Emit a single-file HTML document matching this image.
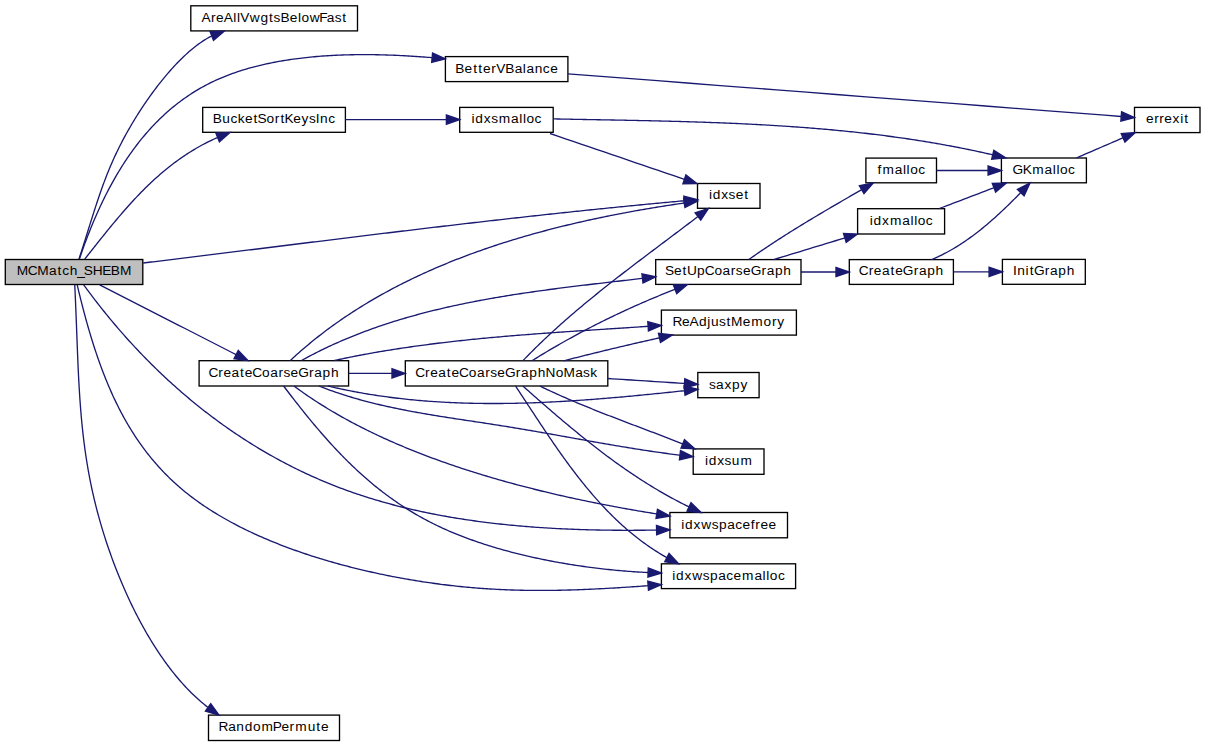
<!DOCTYPE html><html><head><meta charset="utf-8"><style>html,body{margin:0;padding:0;background:#fff;overflow:hidden;}svg{display:block;}text{font-family:"Liberation Sans",sans-serif;}</style></head><body>
<svg width="1205" height="747" viewBox="0 0 1205 747">
<rect width="1205" height="747" fill="#fff"/>
<rect x="5.30" y="259.50" width="137.50" height="25.00" fill="#bfbfbf" stroke="#000" stroke-width="1.33"/>
<text x="16.77 27.82 37.36 49.00 57.53 62.22 69.65 77.13 83.85 92.63 102.13 110.83 119.90" y="275.40" font-size="13.7" fill="#000">MCMatch_SHEBM</text>
<rect x="190.80" y="5.80" width="166.70" height="25.10" fill="#fff" stroke="#000" stroke-width="1.33"/>
<text x="201.55 210.91 216.01 223.82 233.20 236.88 240.18 249.71 260.43 269.10 273.61 280.44 289.78 297.96 301.55 309.83 319.18 326.79 334.65 342.20" y="21.75" font-size="13.7" fill="#000">AreAllVwgtsBelowFast</text>
<rect x="445.40" y="56.60" width="122.50" height="25.00" fill="#fff" stroke="#000" stroke-width="1.33"/>
<text x="455.26 464.59 473.14 478.31 483.05 491.35 496.29 505.34 514.66 522.81 526.41 534.64 542.84 550.13" y="72.50" font-size="13.7" fill="#000">BetterVBalance</text>
<rect x="202.70" y="107.40" width="142.70" height="24.90" fill="#fff" stroke="#000" stroke-width="1.33"/>
<text x="212.76 222.22 230.41 237.63 244.89 253.43 257.55 266.53 274.80 280.49 284.41 293.21 301.57 308.91 315.81 320.04 328.23" y="123.25" font-size="13.7" fill="#000">BucketSortKeysInc</text>
<rect x="459.70" y="107.40" width="93.50" height="24.90" fill="#fff" stroke="#000" stroke-width="1.33"/>
<text x="471.59 475.32 483.80 491.14 498.72 511.09 519.25 522.92 526.50 534.55" y="123.25" font-size="13.7" fill="#000">idxsmalloc</text>
<rect x="1134.50" y="107.40" width="65.50" height="25.20" fill="#fff" stroke="#000" stroke-width="1.33"/>
<text x="1146.00 1154.19 1159.35 1164.33 1172.57 1180.21 1184.25" y="123.40" font-size="13.7" fill="#000">errexit</text>
<rect x="1001.40" y="158.00" width="85.00" height="24.80" fill="#fff" stroke="#000" stroke-width="1.33"/>
<text x="1012.45 1022.64 1032.26 1044.62 1052.77 1056.45 1060.03 1068.07" y="173.80" font-size="13.7" fill="#000">GKmalloc</text>
<rect x="865.90" y="158.10" width="70.60" height="24.70" fill="#fff" stroke="#000" stroke-width="1.33"/>
<text x="877.50 882.44 894.80 902.96 906.62 910.21 918.26" y="173.85" font-size="13.7" fill="#000">fmalloc</text>
<rect x="697.50" y="183.50" width="62.50" height="24.80" fill="#fff" stroke="#000" stroke-width="1.33"/>
<text x="709.05 712.78 721.26 728.60 735.71 744.25" y="199.30" font-size="13.7" fill="#000">idxset</text>
<rect x="857.60" y="208.70" width="87.00" height="25.30" fill="#fff" stroke="#000" stroke-width="1.33"/>
<text x="869.68 873.41 881.89 889.94 902.31 910.46 914.13 917.71 925.76" y="224.75" font-size="13.7" fill="#000">idxmalloc</text>
<rect x="655.70" y="259.60" width="145.30" height="24.80" fill="#fff" stroke="#000" stroke-width="1.33"/>
<text x="664.98 673.99 682.54 686.91 697.07 704.72 714.50 722.57 730.86 735.86 742.98 750.63 761.50 766.73 774.95 783.33" y="275.40" font-size="13.7" fill="#000">SetUpCoarseGraph</text>
<rect x="849.30" y="259.60" width="104.10" height="24.80" fill="#fff" stroke="#000" stroke-width="1.33"/>
<text x="858.85 868.68 873.79 881.89 890.42 895.16 902.82 913.68 918.91 927.14 935.51" y="275.40" font-size="13.7" fill="#000">CreateGraph</text>
<rect x="1002.40" y="259.40" width="82.90" height="24.90" fill="#fff" stroke="#000" stroke-width="1.33"/>
<text x="1013.10 1017.32 1025.62 1029.66 1033.94 1044.80 1050.04 1058.26 1066.64" y="275.25" font-size="13.7" fill="#000">InitGraph</text>
<rect x="661.40" y="310.10" width="135.00" height="25.00" fill="#fff" stroke="#000" stroke-width="1.33"/>
<text x="672.44 681.92 689.61 698.96 707.27 710.99 719.00 726.55 731.02 742.67 751.26 763.62 771.90 777.36" y="326.00" font-size="13.7" fill="#000">ReAdjustMemory</text>
<rect x="199.10" y="360.70" width="149.50" height="25.30" fill="#fff" stroke="#000" stroke-width="1.33"/>
<text x="208.46 218.29 223.39 231.50 240.02 244.77 252.30 262.06 270.15 278.44 283.45 290.55 298.21 309.08 314.31 322.54 330.91" y="376.75" font-size="13.7" fill="#000">CreateCoarseGraph</text>
<rect x="405.30" y="360.80" width="202.50" height="25.20" fill="#fff" stroke="#000" stroke-width="1.33"/>
<text x="415.20 425.02 430.13 438.23 446.76 451.50 459.03 468.80 476.89 485.18 490.18 497.28 504.95 515.82 521.04 529.27 537.64 545.61 555.73 563.56 575.19 583.06 590.31" y="376.80" font-size="13.7" fill="#000">CreateCoarseGraphNoMask</text>
<rect x="697.80" y="372.50" width="61.30" height="25.20" fill="#fff" stroke="#000" stroke-width="1.33"/>
<text x="708.99 716.08 724.40 732.11 740.59" y="388.50" font-size="13.7" fill="#000">saxpy</text>
<rect x="693.20" y="448.90" width="70.80" height="25.40" fill="#fff" stroke="#000" stroke-width="1.33"/>
<text x="704.93 708.66 717.14 724.48 731.72 740.43" y="465.00" font-size="13.7" fill="#000">idxsum</text>
<rect x="669.90" y="512.50" width="117.60" height="25.30" fill="#fff" stroke="#000" stroke-width="1.33"/>
<text x="681.32 685.05 693.53 701.30 711.66 718.90 727.13 735.19 742.49 750.77 755.28 760.39 768.51" y="528.55" font-size="13.7" fill="#000">idxwspacefree</text>
<rect x="661.40" y="563.80" width="134.20" height="24.80" fill="#fff" stroke="#000" stroke-width="1.33"/>
<text x="672.33 676.06 684.54 692.32 702.67 709.91 718.14 726.20 733.50 742.09 754.46 762.61 766.27 769.86 777.91" y="579.60" font-size="13.7" fill="#000">idxwspacemalloc</text>
<rect x="208.50" y="715.10" width="131.00" height="25.40" fill="#fff" stroke="#000" stroke-width="1.33"/>
<text x="218.53 228.14 236.37 244.73 252.96 261.52 272.83 281.39 289.58 295.18 307.67 316.36 321.10" y="731.20" font-size="13.7" fill="#000">RandomPermute</text>
<path d="M79.00,259.00 L79.73,256.76 L80.44,254.54 L81.15,252.34 L81.85,250.16 L82.53,248.01 L83.21,245.88 L83.88,243.76 L84.54,241.67 L85.19,239.60 L85.84,237.55 L86.48,235.51 L87.11,233.50 L87.74,231.50 L88.36,229.52 L88.97,227.55 L89.58,225.60 L90.19,223.67 L90.79,221.75 L91.39,219.85 L91.99,217.96 L92.58,216.08 L93.18,214.22 L93.77,212.37 L94.36,210.53 L94.95,208.71 L95.54,206.89 L96.13,205.09 L96.72,203.30 L97.31,201.51 L97.90,199.74 L98.50,197.97 L99.10,196.21 L99.70,194.46 L100.30,192.72 L100.91,190.98 L101.52,189.25 L102.14,187.52 L102.76,185.80 L103.39,184.08 L104.03,182.37 L104.67,180.66 L105.32,178.96 L105.97,177.25 L106.64,175.55 L107.31,173.85 L107.99,172.16 L108.68,170.46 L109.38,168.76 L110.09,167.06 L110.81,165.36 L111.54,163.66 L112.29,161.96 L113.04,160.25 L113.81,158.54 L114.59,156.83 L115.39,155.12 L116.20,153.40 L117.02,151.67 L117.86,149.94 L118.71,148.20 L119.58,146.46 L120.46,144.71 L121.36,142.95 L122.28,141.18 L123.22,139.41 L124.17,137.62 L125.14,135.83 L126.13,134.03 L127.14,132.21 L128.17,130.39 L129.22,128.55 L130.29,126.71 L131.37,124.86 L132.47,123.00 L133.60,121.13 L134.74,119.26 L135.89,117.38 L137.07,115.50 L138.25,113.62 L139.46,111.73 L140.68,109.85 L141.92,107.96 L143.17,106.08 L144.43,104.19 L145.71,102.31 L147.01,100.44 L148.32,98.57 L149.64,96.70 L150.97,94.84 L152.31,92.99 L153.67,91.15 L155.04,89.31 L156.42,87.49 L157.81,85.68 L159.21,83.88 L160.62,82.09 L162.05,80.32 L163.48,78.56 L164.92,76.82 L166.37,75.09 L167.82,73.39 L169.29,71.70 L170.76,70.03 L172.24,68.38 L173.72,66.75 L175.22,65.15 L176.72,63.57 L178.22,62.01 L179.73,60.48 L181.25,58.97 L182.77,57.50 L184.29,56.04 L185.82,54.62 L187.35,53.23 L188.88,51.87 L190.42,50.54 L191.96,49.24 L193.50,47.98 L195.04,46.75 L196.59,45.56 L198.13,44.40 L199.68,43.28 L201.23,42.20 L202.77,41.16 L204.32,40.16 L205.86,39.20 L207.41,38.28 L208.95,37.40 L210.49,36.57 L211.79,36.06" fill="none" stroke="#191970" stroke-width="1.33" stroke-linejoin="round"/>
<polygon points="224.20,31.20 213.49,40.41 210.08,31.71" fill="#191970" stroke="#191970" stroke-width="1.33"/>
<path d="M79.40,259.00 L80.08,257.00 L80.76,255.01 L81.46,253.02 L82.15,251.04 L82.86,249.06 L83.57,247.08 L84.29,245.11 L85.01,243.14 L85.74,241.18 L86.48,239.23 L87.22,237.27 L87.97,235.33 L88.73,233.39 L89.49,231.45 L90.26,229.52 L91.04,227.59 L91.82,225.67 L92.62,223.76 L93.42,221.85 L94.22,219.95 L95.04,218.05 L95.86,216.16 L96.68,214.28 L97.52,212.40 L98.36,210.53 L99.21,208.67 L100.07,206.81 L100.94,204.96 L101.81,203.12 L102.69,201.28 L103.58,199.45 L104.48,197.63 L105.38,195.81 L106.30,194.00 L107.22,192.20 L108.15,190.41 L109.09,188.62 L110.03,186.85 L110.99,185.08 L111.95,183.32 L112.92,181.56 L113.90,179.82 L114.89,178.08 L115.89,176.35 L116.89,174.64 L117.91,172.92 L118.93,171.22 L119.96,169.53 L121.00,167.85 L122.05,166.17 L123.11,164.50 L124.18,162.85 L125.26,161.20 L126.35,159.56 L127.44,157.94 L128.55,156.32 L129.66,154.71 L130.79,153.11 L131.92,151.52 L133.06,149.94 L134.22,148.38 L135.38,146.82 L136.55,145.27 L137.74,143.74 L138.93,142.21 L140.13,140.69 L141.34,139.19 L142.56,137.70 L143.80,136.21 L145.04,134.74 L146.29,133.28 L147.56,131.84 L148.83,130.40 L150.11,128.97 L151.41,127.56 L152.71,126.16 L154.03,124.77 L155.36,123.39 L156.69,122.03 L158.04,120.67 L159.40,119.33 L160.77,118.01 L162.15,116.69 L163.54,115.39 L164.94,114.10 L166.36,112.82 L167.78,111.56 L169.22,110.30 L170.67,109.07 L172.13,107.84 L173.60,106.63 L175.08,105.43 L176.57,104.25 L178.08,103.08 L179.60,101.92 L181.13,100.78 L182.67,99.65 L184.22,98.54 L185.78,97.43 L187.36,96.35 L188.95,95.28 L190.55,94.22 L192.16,93.18 L193.79,92.15 L195.42,91.14 L197.07,90.14 L198.73,89.16 L200.41,88.19 L202.10,87.24 L203.80,86.30 L205.51,85.38 L207.23,84.48 L208.97,83.59 L210.72,82.71 L212.48,81.86 L214.26,81.01 L216.05,80.19 L217.85,79.38 L219.67,78.59 L221.49,77.81 L223.33,77.04 L225.18,76.30 L227.04,75.56 L228.91,74.85 L230.80,74.15 L232.69,73.46 L234.60,72.79 L236.51,72.13 L238.44,71.49 L240.37,70.86 L242.32,70.24 L244.27,69.64 L246.24,69.05 L248.21,68.48 L250.19,67.92 L252.18,67.38 L254.18,66.85 L256.18,66.33 L258.19,65.82 L260.22,65.33 L262.24,64.85 L264.28,64.39 L266.32,63.93 L268.37,63.49 L270.42,63.06 L272.48,62.65 L274.55,62.24 L276.62,61.85 L278.70,61.47 L280.79,61.10 L282.87,60.75 L284.97,60.40 L287.06,60.07 L289.17,59.75 L291.27,59.44 L293.38,59.14 L295.49,58.85 L297.61,58.57 L299.73,58.30 L301.85,58.05 L303.98,57.80 L306.10,57.56 L308.23,57.34 L310.36,57.12 L312.50,56.92 L314.63,56.72 L316.77,56.53 L318.90,56.36 L321.04,56.19 L323.18,56.03 L325.32,55.88 L327.46,55.74 L329.60,55.61 L331.73,55.49 L333.87,55.38 L336.01,55.27 L338.14,55.18 L340.28,55.09 L342.41,55.01 L344.54,54.94 L346.67,54.87 L348.79,54.81 L350.92,54.77 L353.04,54.72 L355.16,54.69 L357.27,54.66 L359.39,54.64 L361.49,54.63 L363.60,54.63 L365.70,54.63 L367.79,54.63 L369.89,54.65 L371.97,54.67 L374.05,54.70 L376.13,54.73 L378.20,54.77 L380.26,54.81 L382.32,54.86 L384.38,54.92 L386.42,54.98 L388.46,55.05 L390.49,55.12 L392.52,55.19 L394.54,55.28 L396.55,55.36 L398.55,55.46 L400.55,55.55 L402.53,55.65 L404.51,55.76 L406.48,55.87 L408.44,55.98 L410.39,56.10 L412.33,56.22 L414.27,56.34 L416.19,56.47 L418.10,56.60 L420.00,56.74 L421.89,56.87 L423.77,57.02 L425.64,57.16 L427.50,57.31 L429.34,57.46 L431.18,57.61 L432.12,57.69" fill="none" stroke="#191970" stroke-width="1.33" stroke-linejoin="round"/>
<polygon points="445.40,58.90 431.70,62.34 432.55,53.04" fill="#191970" stroke="#191970" stroke-width="1.33"/>
<path d="M84.80,259.00 L86.10,257.37 L87.39,255.73 L88.68,254.10 L89.97,252.47 L91.26,250.84 L92.55,249.22 L93.83,247.59 L95.12,245.97 L96.41,244.35 L97.69,242.74 L98.98,241.12 L100.26,239.52 L101.55,237.91 L102.84,236.31 L104.13,234.71 L105.41,233.11 L106.70,231.52 L108.00,229.93 L109.29,228.35 L110.58,226.77 L111.88,225.20 L113.18,223.63 L114.48,222.06 L115.79,220.51 L117.09,218.95 L118.40,217.40 L119.72,215.86 L121.03,214.32 L122.35,212.79 L123.68,211.27 L125.01,209.75 L126.34,208.24 L127.68,206.73 L129.02,205.24 L130.37,203.74 L131.72,202.26 L133.08,200.78 L134.44,199.31 L135.81,197.85 L137.18,196.40 L138.56,194.95 L139.95,193.51 L141.35,192.08 L142.75,190.66 L144.15,189.25 L145.57,187.84 L146.99,186.45 L148.42,185.06 L149.86,183.68 L151.30,182.32 L152.76,180.96 L154.22,179.61 L155.69,178.27 L157.17,176.95 L158.66,175.63 L160.16,174.32 L161.66,173.02 L163.18,171.74 L164.71,170.46 L166.24,169.20 L167.79,167.95 L169.35,166.71 L170.92,165.48 L172.50,164.26 L174.09,163.05 L175.69,161.86 L177.30,160.68 L178.93,159.51 L180.56,158.35 L182.21,157.21 L183.87,156.08 L185.55,154.96 L187.23,153.86 L188.93,152.77 L190.64,151.69 L192.37,150.63 L194.11,149.58 L195.86,148.54 L197.63,147.52 L199.41,146.51 L201.20,145.52 L203.01,144.54 L204.84,143.58 L206.68,142.63 L208.53,141.70 L210.40,140.78 L212.29,139.88 L214.19,139.00 L216.11,138.13 L217.65,137.51" fill="none" stroke="#191970" stroke-width="1.33" stroke-linejoin="round"/>
<polygon points="230.00,132.50 219.40,141.83 215.89,133.18" fill="#191970" stroke="#191970" stroke-width="1.33"/>
<path d="M143.20,263.00 L145.20,262.76 L147.20,262.51 L149.20,262.27 L151.20,262.03 L153.20,261.79 L155.20,261.54 L157.20,261.30 L159.20,261.05 L161.20,260.81 L163.19,260.57 L165.19,260.32 L167.19,260.08 L169.19,259.83 L171.19,259.59 L173.19,259.34 L175.19,259.10 L177.19,258.85 L179.19,258.61 L181.19,258.36 L183.19,258.12 L185.19,257.87 L187.19,257.63 L189.19,257.38 L191.19,257.13 L193.18,256.89 L195.18,256.64 L197.18,256.40 L199.18,256.15 L201.18,255.90 L203.18,255.66 L205.18,255.41 L207.18,255.16 L209.18,254.92 L211.18,254.67 L213.18,254.42 L215.18,254.17 L217.17,253.93 L219.17,253.68 L221.17,253.43 L223.17,253.18 L225.17,252.94 L227.17,252.69 L229.17,252.44 L231.17,252.19 L233.17,251.95 L235.17,251.70 L237.17,251.45 L239.17,251.20 L241.16,250.96 L243.16,250.71 L245.16,250.46 L247.16,250.21 L249.16,249.96 L251.16,249.72 L253.16,249.47 L255.16,249.22 L257.16,248.97 L259.16,248.72 L261.16,248.48 L263.15,248.23 L265.15,247.98 L267.15,247.73 L269.15,247.48 L271.15,247.23 L273.15,246.99 L275.15,246.74 L277.15,246.49 L279.15,246.24 L281.15,245.99 L283.15,245.75 L285.14,245.50 L287.14,245.25 L289.14,245.00 L291.14,244.76 L293.14,244.51 L295.14,244.26 L297.14,244.01 L299.14,243.76 L301.14,243.52 L303.14,243.27 L305.14,243.02 L307.14,242.77 L309.13,242.53 L311.13,242.28 L313.13,242.03 L315.13,241.79 L317.13,241.54 L319.13,241.29 L321.13,241.04 L323.13,240.80 L325.13,240.55 L327.13,240.30 L329.13,240.06 L331.13,239.81 L333.13,239.57 L335.13,239.32 L337.12,239.07 L339.12,238.83 L341.12,238.58 L343.12,238.34 L345.12,238.09 L347.12,237.84 L349.12,237.60 L351.12,237.35 L353.12,237.11 L355.12,236.86 L357.12,236.62 L359.12,236.37 L361.12,236.13 L363.12,235.89 L365.12,235.64 L367.12,235.40 L369.12,235.15 L371.12,234.91 L373.12,234.67 L375.12,234.42 L377.11,234.18 L379.11,233.94 L381.11,233.69 L383.11,233.45 L385.11,233.21 L387.11,232.97 L389.11,232.72 L391.11,232.48 L393.11,232.24 L395.11,232.00 L397.11,231.76 L399.11,231.52 L401.11,231.27 L403.11,231.03 L405.11,230.79 L407.11,230.55 L409.11,230.31 L411.11,230.07 L413.11,229.83 L415.11,229.59 L417.11,229.35 L419.11,229.12 L421.11,228.88 L423.11,228.64 L425.11,228.40 L427.11,228.16 L429.11,227.92 L431.11,227.69 L433.11,227.45 L435.11,227.21 L437.11,226.98 L439.11,226.74 L441.12,226.50 L443.12,226.27 L445.12,226.03 L447.12,225.80 L449.12,225.56 L451.12,225.33 L453.12,225.09 L455.12,224.86 L457.12,224.62 L459.12,224.39 L461.12,224.16 L463.12,223.92 L465.12,223.69 L467.12,223.46 L469.12,223.23 L471.12,223.00 L473.13,222.76 L475.13,222.53 L477.13,222.30 L479.13,222.07 L481.13,221.84 L483.13,221.61 L485.13,221.38 L487.13,221.15 L489.13,220.92 L491.13,220.70 L493.14,220.47 L495.14,220.24 L497.14,220.01 L499.14,219.79 L501.14,219.56 L503.14,219.33 L505.14,219.11 L507.15,218.88 L509.15,218.66 L511.15,218.43 L513.15,218.21 L515.15,217.98 L517.15,217.76 L519.16,217.54 L521.16,217.31 L523.16,217.09 L525.16,216.87 L527.16,216.65 L529.16,216.43 L531.17,216.21 L533.17,215.98 L535.17,215.76 L537.17,215.55 L539.17,215.33 L541.18,215.11 L543.18,214.89 L545.18,214.67 L547.18,214.45 L549.19,214.24 L551.19,214.02 L553.19,213.80 L555.19,213.59 L557.20,213.37 L559.20,213.16 L561.20,212.94 L563.20,212.73 L565.21,212.52 L567.21,212.30 L569.21,212.09 L571.21,211.88 L573.22,211.67 L575.22,211.46 L577.22,211.25 L579.23,211.04 L581.23,210.83 L583.23,210.62 L585.24,210.41 L587.24,210.20 L589.24,209.99 L591.25,209.78 L593.25,209.58 L595.25,209.37 L597.26,209.17 L599.26,208.96 L601.26,208.76 L603.27,208.55 L605.27,208.35 L607.27,208.15 L609.28,207.94 L611.28,207.74 L613.29,207.54 L615.29,207.34 L617.29,207.14 L619.30,206.94 L621.30,206.74 L623.31,206.54 L625.31,206.34 L627.31,206.14 L629.32,205.95 L631.32,205.75 L633.33,205.55 L635.33,205.36 L637.34,205.16 L639.34,204.97 L641.35,204.78 L643.35,204.58 L645.35,204.39 L647.36,204.20 L649.36,204.01 L651.37,203.82 L653.37,203.63 L655.38,203.44 L657.38,203.25 L659.39,203.06 L661.39,202.87 L663.40,202.68 L665.41,202.50 L667.41,202.31 L669.42,202.13 L671.42,201.94 L673.43,201.76 L675.43,201.58 L677.44,201.39 L679.44,201.21 L681.45,201.03 L683.46,200.85 L684.22,200.78" fill="none" stroke="#191970" stroke-width="1.33" stroke-linejoin="round"/>
<polygon points="697.50,199.60 684.64,205.43 683.81,196.13" fill="#191970" stroke="#191970" stroke-width="1.33"/>
<path d="M99.70,284.90 L107.51,288.89 L115.31,292.88 L123.12,296.87 L130.92,300.86 L138.73,304.85 L146.53,308.84 L154.34,312.83 L162.14,316.82 L169.95,320.81 L177.75,324.79 L185.56,328.78 L193.36,332.77 L201.17,336.76 L208.97,340.75 L216.78,344.74 L224.58,348.73 L232.39,352.72 L236.13,354.63" fill="none" stroke="#191970" stroke-width="1.33" stroke-linejoin="round"/>
<polygon points="248.00,360.70 234.01,358.79 238.26,350.47" fill="#191970" stroke="#191970" stroke-width="1.33"/>
<path d="M83.75,284.90 L84.95,286.54 L86.15,288.18 L87.35,289.82 L88.56,291.45 L89.78,293.08 L91.00,294.70 L92.22,296.32 L93.45,297.94 L94.68,299.55 L95.92,301.15 L97.16,302.76 L98.41,304.36 L99.66,305.95 L100.91,307.54 L102.17,309.13 L103.44,310.71 L104.71,312.29 L105.98,313.86 L107.26,315.43 L108.54,317.00 L109.83,318.56 L111.12,320.11 L112.42,321.66 L113.72,323.21 L115.02,324.75 L116.33,326.29 L117.65,327.83 L118.96,329.36 L120.29,330.88 L121.61,332.40 L122.95,333.92 L124.28,335.43 L125.62,336.94 L126.97,338.44 L128.32,339.94 L129.67,341.43 L131.03,342.92 L132.39,344.40 L133.76,345.88 L135.13,347.35 L136.50,348.82 L137.88,350.29 L139.26,351.75 L140.65,353.20 L142.05,354.65 L143.44,356.10 L144.84,357.54 L146.25,358.97 L147.66,360.40 L149.07,361.83 L150.49,363.25 L151.91,364.66 L153.34,366.07 L154.77,367.48 L156.21,368.88 L157.65,370.27 L159.09,371.67 L160.54,373.05 L161.99,374.43 L163.45,375.80 L164.91,377.17 L166.37,378.54 L167.84,379.90 L169.31,381.25 L170.79,382.60 L172.27,383.94 L173.76,385.28 L175.25,386.61 L176.74,387.94 L178.24,389.26 L179.74,390.58 L181.25,391.89 L182.76,393.20 L184.28,394.50 L185.79,395.79 L187.32,397.08 L188.84,398.37 L190.38,399.64 L191.91,400.92 L193.45,402.18 L194.99,403.45 L196.54,404.70 L198.09,405.95 L199.65,407.20 L201.21,408.44 L202.77,409.67 L204.34,410.90 L205.91,412.12 L207.49,413.33 L209.07,414.54 L210.65,415.75 L212.24,416.95 L213.83,418.14 L215.43,419.33 L217.03,420.51 L218.63,421.68 L220.24,422.85 L221.85,424.02 L223.47,425.17 L225.09,426.32 L226.71,427.47 L228.34,428.61 L229.97,429.74 L231.61,430.87 L233.24,431.99 L234.89,433.11 L236.54,434.21 L238.19,435.32 L239.84,436.41 L241.50,437.50 L243.16,438.59 L244.83,439.66 L246.50,440.74 L248.18,441.80 L249.85,442.86 L251.54,443.91 L253.22,444.96 L254.91,446.00 L256.60,447.03 L258.30,448.06 L260.00,449.08 L261.71,450.09 L263.42,451.10 L265.13,452.10 L266.85,453.10 L268.57,454.09 L270.29,455.07 L272.02,456.04 L273.75,457.01 L275.49,457.97 L277.22,458.93 L278.97,459.88 L280.71,460.82 L282.46,461.75 L284.22,462.68 L285.98,463.60 L287.74,464.52 L289.50,465.43 L291.27,466.33 L293.04,467.22 L294.82,468.11 L296.60,468.99 L298.38,469.86 L300.17,470.73 L301.96,471.59 L303.76,472.44 L305.55,473.29 L307.36,474.13 L309.16,474.96 L310.97,475.79 L312.78,476.60 L314.60,477.41 L316.42,478.22 L318.24,479.01 L320.07,479.80 L321.90,480.59 L323.74,481.36 L325.57,482.13 L327.41,482.89 L329.26,483.64 L331.11,484.39 L332.96,485.13 L334.82,485.86 L336.67,486.59 L338.54,487.30 L340.40,488.01 L342.27,488.71 L344.15,489.41 L346.02,490.10 L347.90,490.78 L349.79,491.45 L351.67,492.12 L353.56,492.77 L355.46,493.43 L357.35,494.07 L359.25,494.71 L361.16,495.34 L363.06,495.96 L364.97,496.58 L366.88,497.19 L368.80,497.79 L370.71,498.38 L372.64,498.97 L374.56,499.55 L376.49,500.13 L378.41,500.70 L380.35,501.26 L382.28,501.81 L384.22,502.36 L386.16,502.90 L388.10,503.44 L390.05,503.97 L391.99,504.49 L393.94,505.01 L395.90,505.52 L397.85,506.02 L399.81,506.52 L401.77,507.01 L403.73,507.49 L405.70,507.97 L407.66,508.44 L409.63,508.90 L411.60,509.36 L413.57,509.82 L415.55,510.26 L417.53,510.71 L419.51,511.14 L421.49,511.57 L423.47,511.99 L425.45,512.41 L427.44,512.82 L429.43,513.23 L431.42,513.63 L433.41,514.02 L435.40,514.41 L437.40,514.79 L439.40,515.17 L441.40,515.54 L443.40,515.91 L445.40,516.27 L447.40,516.62 L449.40,516.97 L451.41,517.31 L453.42,517.65 L455.43,517.98 L457.43,518.31 L459.45,518.63 L461.46,518.95 L463.47,519.26 L465.49,519.57 L467.50,519.87 L469.52,520.17 L471.53,520.46 L473.55,520.74 L475.57,521.02 L477.59,521.30 L479.61,521.57 L481.64,521.84 L483.66,522.10 L485.68,522.36 L487.71,522.61 L489.73,522.85 L491.76,523.10 L493.78,523.33 L495.81,523.57 L497.84,523.79 L499.86,524.02 L501.89,524.24 L503.92,524.45 L505.95,524.66 L507.98,524.86 L510.01,525.07 L512.04,525.26 L514.07,525.45 L516.10,525.64 L518.13,525.82 L520.16,526.00 L522.19,526.18 L524.22,526.35 L526.25,526.52 L528.28,526.68 L530.31,526.84 L532.34,526.99 L534.37,527.14 L536.40,527.29 L538.43,527.43 L540.46,527.57 L542.48,527.70 L544.51,527.83 L546.54,527.96 L548.57,528.08 L550.59,528.20 L552.62,528.32 L554.65,528.43 L556.67,528.54 L558.70,528.64 L560.72,528.74 L562.74,528.84 L564.77,528.93 L566.79,529.02 L568.81,529.11 L570.83,529.19 L572.85,529.27 L574.87,529.35 L576.88,529.42 L578.90,529.49 L580.92,529.56 L582.93,529.63 L584.94,529.69 L586.96,529.74 L588.97,529.80 L590.98,529.85 L592.98,529.90 L594.99,529.94 L597.00,529.99 L599.00,530.03 L601.00,530.06 L603.00,530.10 L605.00,530.13 L607.00,530.16 L609.00,530.18 L610.99,530.20 L612.99,530.22 L614.98,530.24 L616.97,530.26 L618.96,530.27 L620.94,530.28 L622.93,530.29 L624.91,530.29 L626.89,530.29 L628.87,530.29 L630.85,530.29 L632.82,530.29 L634.79,530.28 L636.76,530.27 L638.73,530.26 L640.70,530.24 L642.66,530.23 L644.62,530.21 L646.58,530.19 L648.54,530.17 L650.49,530.14 L652.45,530.12 L654.40,530.09 L656.34,530.06 L656.57,530.06" fill="none" stroke="#191970" stroke-width="1.33" stroke-linejoin="round"/>
<polygon points="669.90,529.80 656.66,534.73 656.48,525.39" fill="#191970" stroke="#191970" stroke-width="1.33"/>
<path d="M77.20,284.90 L77.73,287.13 L78.25,289.34 L78.79,291.55 L79.32,293.75 L79.86,295.94 L80.40,298.12 L80.94,300.30 L81.49,302.46 L82.04,304.62 L82.59,306.77 L83.15,308.91 L83.71,311.04 L84.27,313.17 L84.84,315.28 L85.41,317.39 L85.99,319.48 L86.57,321.57 L87.15,323.65 L87.74,325.73 L88.33,327.79 L88.93,329.84 L89.53,331.89 L90.13,333.93 L90.74,335.96 L91.36,337.98 L91.98,339.99 L92.60,342.00 L93.23,343.99 L93.87,345.98 L94.50,347.96 L95.15,349.93 L95.80,351.89 L96.46,353.84 L97.12,355.79 L97.78,357.72 L98.46,359.65 L99.13,361.57 L99.82,363.48 L100.51,365.38 L101.21,367.27 L101.91,369.16 L102.62,371.04 L103.33,372.90 L104.05,374.76 L104.78,376.61 L105.51,378.46 L106.25,380.29 L107.00,382.12 L107.76,383.93 L108.52,385.74 L109.29,387.54 L110.06,389.33 L110.85,391.11 L111.64,392.89 L112.43,394.66 L113.24,396.41 L114.05,398.16 L114.87,399.90 L115.70,401.63 L116.53,403.36 L117.38,405.07 L118.23,406.78 L119.09,408.48 L119.96,410.16 L120.83,411.85 L121.72,413.52 L122.61,415.18 L123.51,416.84 L124.42,418.48 L125.34,420.12 L126.27,421.75 L127.20,423.37 L128.15,424.98 L129.10,426.59 L130.06,428.18 L131.04,429.77 L132.02,431.35 L133.01,432.92 L134.01,434.48 L135.02,436.04 L136.04,437.58 L137.07,439.12 L138.11,440.64 L139.16,442.16 L140.22,443.67 L141.29,445.18 L142.37,446.67 L143.46,448.15 L144.56,449.63 L145.67,451.10 L146.79,452.56 L147.92,454.01 L149.07,455.45 L150.22,456.89 L151.39,458.31 L152.56,459.73 L153.75,461.14 L154.95,462.54 L156.16,463.93 L157.38,465.31 L158.61,466.69 L159.85,468.05 L161.11,469.41 L162.37,470.76 L163.65,472.10 L164.94,473.43 L166.24,474.75 L167.56,476.07 L168.89,477.37 L170.22,478.67 L171.58,479.96 L172.94,481.24 L174.32,482.52 L175.70,483.78 L177.11,485.03 L178.52,486.28 L179.95,487.52 L181.39,488.75 L182.84,489.97 L184.31,491.18 L185.78,492.39 L187.28,493.58 L188.78,494.77 L190.30,495.95 L191.83,497.12 L193.38,498.28 L194.94,499.44 L196.51,500.58 L198.09,501.72 L199.68,502.85 L201.29,503.97 L202.91,505.08 L204.54,506.18 L206.18,507.28 L207.83,508.36 L209.50,509.44 L211.18,510.51 L212.86,511.57 L214.56,512.63 L216.27,513.67 L217.99,514.71 L219.72,515.74 L221.46,516.76 L223.21,517.78 L224.97,518.78 L226.74,519.78 L228.52,520.77 L230.31,521.75 L232.10,522.72 L233.91,523.69 L235.73,524.65 L237.55,525.60 L239.39,526.54 L241.23,527.47 L243.08,528.40 L244.94,529.32 L246.81,530.23 L248.68,531.13 L250.57,532.02 L252.46,532.91 L254.36,533.79 L256.26,534.66 L258.17,535.53 L260.09,536.38 L262.02,537.23 L263.96,538.07 L265.90,538.90 L267.84,539.73 L269.80,540.55 L271.76,541.36 L273.72,542.16 L275.69,542.96 L277.67,543.74 L279.65,544.53 L281.64,545.30 L283.63,546.06 L285.63,546.82 L287.63,547.57 L289.64,548.32 L291.65,549.05 L293.67,549.78 L295.69,550.50 L297.72,551.22 L299.75,551.92 L301.78,552.62 L303.82,553.32 L305.86,554.00 L307.90,554.68 L309.95,555.35 L312.00,556.01 L314.05,556.67 L316.11,557.32 L318.17,557.96 L320.23,558.60 L322.29,559.23 L324.36,559.85 L326.43,560.46 L328.50,561.07 L330.57,561.67 L332.64,562.26 L334.72,562.85 L336.79,563.43 L338.87,564.00 L340.95,564.57 L343.03,565.12 L345.11,565.68 L347.19,566.22 L349.27,566.76 L351.35,567.29 L353.43,567.82 L355.51,568.33 L357.59,568.85 L359.67,569.35 L361.75,569.85 L363.83,570.34 L365.91,570.83 L367.99,571.30 L370.06,571.77 L372.14,572.24 L374.21,572.70 L376.28,573.15 L378.35,573.60 L380.42,574.03 L382.48,574.47 L384.55,574.89 L386.61,575.31 L388.67,575.73 L390.72,576.13 L392.78,576.53 L394.83,576.93 L396.87,577.32 L398.92,577.70 L400.96,578.07 L403.00,578.44 L405.03,578.80 L407.06,579.16 L409.08,579.51 L411.10,579.85 L413.12,580.19 L415.13,580.52 L417.14,580.85 L419.14,581.17 L421.14,581.48 L423.13,581.79 L425.12,582.09 L427.10,582.39 L429.08,582.68 L431.06,582.96 L433.02,583.24 L434.99,583.51 L436.95,583.77 L438.90,584.03 L440.85,584.29 L442.80,584.54 L444.75,584.78 L446.69,585.02 L448.62,585.25 L450.55,585.48 L452.48,585.70 L454.41,585.91 L456.33,586.12 L458.25,586.32 L460.17,586.52 L462.08,586.72 L463.99,586.90 L465.90,587.09 L467.81,587.26 L469.71,587.44 L471.61,587.60 L473.51,587.76 L475.41,587.92 L477.30,588.07 L479.19,588.22 L481.09,588.36 L482.98,588.50 L484.86,588.63 L486.75,588.76 L488.64,588.88 L490.52,588.99 L492.41,589.11 L494.29,589.21 L496.17,589.32 L498.05,589.41 L499.93,589.51 L501.82,589.59 L503.70,589.68 L505.58,589.76 L507.46,589.83 L509.34,589.90 L511.22,589.97 L513.10,590.03 L514.98,590.09 L516.86,590.14 L518.74,590.19 L520.63,590.23 L522.51,590.27 L524.40,590.31 L526.28,590.34 L528.17,590.36 L530.06,590.39 L531.95,590.41 L533.84,590.42 L535.74,590.43 L537.63,590.44 L539.53,590.44 L541.43,590.44 L543.33,590.44 L545.24,590.43 L547.14,590.41 L549.05,590.40 L550.97,590.38 L552.88,590.35 L554.80,590.33 L556.72,590.30 L558.64,590.26 L560.57,590.22 L562.50,590.18 L564.43,590.14 L566.37,590.09 L568.31,590.03 L570.26,589.98 L572.21,589.92 L574.16,589.86 L576.12,589.79 L578.08,589.72 L580.04,589.65 L582.01,589.58 L583.99,589.50 L585.97,589.42 L587.95,589.33 L589.94,589.24 L591.94,589.15 L593.94,589.06 L595.94,588.96 L597.95,588.86 L599.97,588.76 L601.99,588.66 L604.02,588.55 L606.05,588.44 L608.09,588.32 L610.14,588.21 L612.19,588.09 L614.25,587.97 L616.32,587.84 L618.39,587.72 L620.47,587.59 L622.55,587.46 L624.64,587.32 L626.74,587.18 L628.85,587.05 L630.96,586.90 L633.09,586.76 L635.22,586.62 L637.35,586.47 L639.50,586.32 L641.65,586.16 L643.81,586.01 L645.98,585.85 L648.11,585.69" fill="none" stroke="#191970" stroke-width="1.33" stroke-linejoin="round"/>
<polygon points="661.40,584.70 648.46,590.35 647.76,581.04" fill="#191970" stroke="#191970" stroke-width="1.33"/>
<path d="M74.75,284.90 L74.86,287.13 L74.96,289.35 L75.07,291.56 L75.17,293.76 L75.27,295.95 L75.36,298.14 L75.46,300.31 L75.55,302.48 L75.64,304.63 L75.73,306.78 L75.82,308.92 L75.91,311.06 L75.99,313.18 L76.07,315.29 L76.16,317.40 L76.24,319.50 L76.32,321.59 L76.40,323.68 L76.48,325.76 L76.56,327.83 L76.63,329.89 L76.71,331.95 L76.79,334.00 L76.87,336.04 L76.94,338.07 L77.02,340.10 L77.10,342.13 L77.18,344.14 L77.25,346.15 L77.33,348.16 L77.41,350.16 L77.49,352.15 L77.57,354.14 L77.65,356.12 L77.73,358.09 L77.82,360.07 L77.90,362.03 L77.99,363.99 L78.07,365.95 L78.16,367.90 L78.25,369.85 L78.34,371.79 L78.44,373.73 L78.53,375.66 L78.63,377.59 L78.73,379.52 L78.83,381.44 L78.94,383.36 L79.05,385.27 L79.16,387.18 L79.27,389.09 L79.38,391.00 L79.50,392.90 L79.62,394.80 L79.75,396.69 L79.87,398.59 L80.00,400.48 L80.14,402.36 L80.28,404.25 L80.42,406.13 L80.56,408.01 L80.71,409.89 L80.87,411.77 L81.02,413.65 L81.18,415.52 L81.35,417.40 L81.52,419.27 L81.69,421.14 L81.87,423.01 L82.06,424.88 L82.24,426.74 L82.44,428.61 L82.64,430.48 L82.84,432.34 L83.05,434.21 L83.26,436.07 L83.48,437.94 L83.71,439.81 L83.94,441.67 L84.18,443.54 L84.42,445.40 L84.67,447.27 L84.92,449.14 L85.18,451.01 L85.45,452.88 L85.72,454.75 L86.01,456.62 L86.29,458.49 L86.59,460.37 L86.89,462.25 L87.19,464.12 L87.51,466.00 L87.83,467.89 L88.16,469.77 L88.50,471.66 L88.84,473.55 L89.19,475.44 L89.55,477.33 L89.92,479.23 L90.29,481.13 L90.67,483.03 L91.07,484.94 L91.46,486.84 L91.87,488.76 L92.29,490.67 L92.71,492.59 L93.15,494.51 L93.59,496.44 L94.04,498.37 L94.50,500.31 L94.97,502.25 L95.45,504.19 L95.93,506.14 L96.43,508.09 L96.94,510.05 L97.45,512.01 L97.98,513.98 L98.51,515.95 L99.06,517.93 L99.61,519.91 L100.18,521.90 L100.75,523.89 L101.34,525.88 L101.93,527.88 L102.53,529.88 L103.15,531.89 L103.77,533.90 L104.40,535.91 L105.04,537.92 L105.69,539.94 L106.35,541.95 L107.02,543.97 L107.70,545.99 L108.39,548.02 L109.09,550.04 L109.80,552.06 L110.51,554.09 L111.24,556.11 L111.97,558.14 L112.72,560.16 L113.47,562.19 L114.23,564.21 L115.00,566.23 L115.78,568.25 L116.57,570.27 L117.37,572.29 L118.18,574.31 L118.99,576.32 L119.82,578.33 L120.65,580.34 L121.49,582.35 L122.35,584.35 L123.20,586.35 L124.07,588.35 L124.95,590.34 L125.84,592.33 L126.73,594.31 L127.63,596.29 L128.55,598.27 L129.47,600.24 L130.39,602.20 L131.33,604.16 L132.28,606.12 L133.23,608.06 L134.19,610.00 L135.16,611.94 L136.14,613.87 L137.13,615.79 L138.13,617.70 L139.13,619.61 L140.14,621.51 L141.16,623.40 L142.19,625.28 L143.23,627.15 L144.27,629.02 L145.32,630.87 L146.38,632.72 L147.45,634.56 L148.53,636.39 L149.61,638.21 L150.70,640.01 L151.80,641.81 L152.91,643.60 L154.02,645.37 L155.15,647.14 L156.28,648.89 L157.42,650.64 L158.56,652.37 L159.72,654.09 L160.88,655.79 L162.05,657.49 L163.22,659.17 L164.41,660.83 L165.60,662.49 L166.80,664.13 L168.00,665.76 L169.21,667.37 L170.44,668.97 L171.66,670.55 L172.90,672.12 L174.14,673.68 L175.39,675.22 L176.65,676.74 L177.91,678.25 L179.18,679.74 L180.46,681.22 L181.75,682.68 L183.04,684.12 L184.34,685.55 L185.64,686.96 L186.96,688.35 L188.28,689.72 L189.60,691.08 L190.94,692.42 L192.28,693.74 L193.63,695.04 L194.98,696.32 L196.34,697.58 L197.71,698.83 L199.08,700.05 L200.46,701.26 L201.85,702.44 L203.24,703.60 L204.64,704.75 L206.05,705.87 L207.47,706.97 L208.06,707.39" fill="none" stroke="#191970" stroke-width="1.33" stroke-linejoin="round"/>
<polygon points="219.00,715.00 205.39,711.22 210.73,703.55" fill="#191970" stroke="#191970" stroke-width="1.33"/>
<path d="M567.90,73.80 L597.72,76.10 L627.54,78.40 L657.36,80.70 L687.18,83.00 L717.01,85.30 L746.83,87.60 L776.65,89.90 L806.47,92.20 L836.29,94.50 L866.11,96.80 L895.93,99.10 L925.75,101.40 L955.57,103.70 L985.39,106.00 L1015.22,108.30 L1045.04,110.60 L1074.86,112.90 L1104.68,115.20 L1121.21,116.47" fill="none" stroke="#191970" stroke-width="1.33" stroke-linejoin="round"/>
<polygon points="1134.50,117.50 1120.85,121.13 1121.57,111.82" fill="#191970" stroke="#191970" stroke-width="1.33"/>
<path d="M345.40,119.60 L351.42,119.60 L357.43,119.60 L363.45,119.60 L369.46,119.60 L375.48,119.60 L381.49,119.60 L387.51,119.60 L393.53,119.60 L399.54,119.60 L405.56,119.60 L411.57,119.60 L417.59,119.60 L423.61,119.60 L429.62,119.60 L435.64,119.60 L441.65,119.60 L446.37,119.60" fill="none" stroke="#191970" stroke-width="1.33" stroke-linejoin="round"/>
<polygon points="459.70,119.60 446.37,124.27 446.37,114.93" fill="#191970" stroke="#191970" stroke-width="1.33"/>
<path d="M553.40,118.90 L555.41,118.94 L557.41,118.98 L559.42,119.02 L561.43,119.06 L563.43,119.10 L565.44,119.14 L567.45,119.17 L569.46,119.21 L571.46,119.25 L573.47,119.29 L575.48,119.32 L577.49,119.36 L579.50,119.40 L581.51,119.43 L583.52,119.47 L585.53,119.51 L587.54,119.54 L589.55,119.58 L591.56,119.62 L593.57,119.65 L595.58,119.69 L597.59,119.73 L599.60,119.76 L601.62,119.80 L603.63,119.84 L605.64,119.87 L607.65,119.91 L609.66,119.95 L611.68,119.99 L613.69,120.02 L615.70,120.06 L617.71,120.10 L619.73,120.14 L621.74,120.18 L623.75,120.21 L625.77,120.25 L627.78,120.29 L629.80,120.33 L631.81,120.37 L633.82,120.41 L635.84,120.46 L637.85,120.50 L639.87,120.54 L641.88,120.58 L643.90,120.63 L645.91,120.67 L647.92,120.71 L649.94,120.76 L651.95,120.80 L653.97,120.85 L655.98,120.90 L658.00,120.94 L660.01,120.99 L662.03,121.04 L664.05,121.09 L666.06,121.14 L668.08,121.19 L670.09,121.24 L672.11,121.30 L674.12,121.35 L676.14,121.40 L678.15,121.46 L680.17,121.51 L682.19,121.57 L684.20,121.63 L686.22,121.69 L688.23,121.75 L690.25,121.81 L692.26,121.87 L694.28,121.93 L696.29,122.00 L698.31,122.06 L700.33,122.13 L702.34,122.19 L704.36,122.26 L706.37,122.33 L708.39,122.40 L710.40,122.48 L712.42,122.55 L714.43,122.62 L716.45,122.70 L718.46,122.78 L720.48,122.85 L722.49,122.93 L724.51,123.01 L726.52,123.10 L728.54,123.18 L730.55,123.27 L732.57,123.35 L734.58,123.44 L736.60,123.53 L738.61,123.62 L740.63,123.71 L742.64,123.81 L744.65,123.90 L746.67,124.00 L748.68,124.10 L750.69,124.20 L752.71,124.30 L754.72,124.40 L756.73,124.51 L758.75,124.62 L760.76,124.73 L762.77,124.84 L764.78,124.95 L766.80,125.06 L768.81,125.18 L770.82,125.30 L772.83,125.42 L774.84,125.54 L776.86,125.66 L778.87,125.79 L780.88,125.91 L782.89,126.04 L784.90,126.17 L786.91,126.31 L788.92,126.44 L790.93,126.58 L792.94,126.72 L794.95,126.86 L796.96,127.00 L798.97,127.15 L800.97,127.30 L802.98,127.45 L804.99,127.60 L807.00,127.75 L809.01,127.91 L811.01,128.07 L813.02,128.23 L815.03,128.39 L817.03,128.56 L819.04,128.73 L821.05,128.90 L823.05,129.07 L825.06,129.24 L827.06,129.42 L829.07,129.60 L831.07,129.78 L833.07,129.97 L835.08,130.16 L837.08,130.35 L839.09,130.54 L841.09,130.73 L843.09,130.93 L845.09,131.13 L847.09,131.33 L849.10,131.54 L851.10,131.75 L853.10,131.96 L855.10,132.17 L857.10,132.39 L859.10,132.61 L861.10,132.83 L863.09,133.05 L865.09,133.28 L867.09,133.51 L869.09,133.74 L871.09,133.98 L873.08,134.22 L875.08,134.46 L877.07,134.70 L879.07,134.95 L881.06,135.20 L883.06,135.46 L885.05,135.71 L887.05,135.97 L889.04,136.23 L891.03,136.50 L893.03,136.77 L895.02,137.04 L897.01,137.32 L899.00,137.59 L900.99,137.88 L902.98,138.16 L904.97,138.45 L906.96,138.74 L908.95,139.03 L910.94,139.33 L912.92,139.63 L914.91,139.94 L916.90,140.24 L918.88,140.56 L920.87,140.87 L922.85,141.19 L924.84,141.51 L926.82,141.83 L928.81,142.16 L930.79,142.49 L932.77,142.83 L934.75,143.17 L936.74,143.51 L938.72,143.86 L940.70,144.21 L942.68,144.56 L944.66,144.92 L946.63,145.28 L948.61,145.64 L950.59,146.01 L952.57,146.38 L954.54,146.76 L956.52,147.14 L958.49,147.52 L960.47,147.90 L962.44,148.30 L964.41,148.69 L966.39,149.09 L968.36,149.49 L970.33,149.90 L972.30,150.31 L974.27,150.72 L976.24,151.14 L978.21,151.56 L980.18,151.99 L982.14,152.42 L984.11,152.85 L986.08,153.29 L988.04,153.73 L990.01,154.18 L991.97,154.63 L992.73,154.81" fill="none" stroke="#191970" stroke-width="1.33" stroke-linejoin="round"/>
<polygon points="1005.70,157.90 991.65,159.35 993.82,150.27" fill="#191970" stroke="#191970" stroke-width="1.33"/>
<path d="M550.00,133.50 L557.74,136.14 L565.47,138.77 L573.21,141.41 L580.95,144.05 L588.68,146.68 L596.42,149.32 L604.16,151.96 L611.89,154.59 L619.63,157.23 L627.37,159.87 L635.11,162.51 L642.84,165.14 L650.58,167.78 L658.32,170.42 L666.05,173.05 L673.79,175.69 L681.53,178.33 L684.38,179.30" fill="none" stroke="#191970" stroke-width="1.33" stroke-linejoin="round"/>
<polygon points="697.00,183.60 682.88,183.72 685.89,174.88" fill="#191970" stroke="#191970" stroke-width="1.33"/>
<path d="M1076.30,158.00 L1079.41,156.66 L1082.51,155.32 L1085.62,153.97 L1088.72,152.63 L1091.83,151.29 L1094.93,149.95 L1098.04,148.61 L1101.14,147.26 L1104.25,145.92 L1107.35,144.58 L1110.46,143.24 L1113.56,141.89 L1116.67,140.55 L1119.77,139.21 L1122.88,137.87 L1123.06,137.79" fill="none" stroke="#191970" stroke-width="1.33" stroke-linejoin="round"/>
<polygon points="1135.30,132.50 1124.92,142.08 1121.21,133.50" fill="#191970" stroke="#191970" stroke-width="1.33"/>
<path d="M936.50,170.50 L939.92,170.50 L943.33,170.50 L946.75,170.50 L950.16,170.50 L953.58,170.50 L956.99,170.50 L960.41,170.50 L963.83,170.50 L967.24,170.50 L970.66,170.50 L974.07,170.50 L977.49,170.50 L980.91,170.50 L984.32,170.50 L987.74,170.50 L988.07,170.50" fill="none" stroke="#191970" stroke-width="1.33" stroke-linejoin="round"/>
<polygon points="1001.40,170.50 988.07,175.17 988.07,165.83" fill="#191970" stroke="#191970" stroke-width="1.33"/>
<path d="M939.20,208.60 L942.74,207.25 L946.27,205.91 L949.81,204.56 L953.35,203.21 L956.88,201.86 L960.42,200.52 L963.96,199.17 L967.49,197.82 L971.03,196.47 L974.57,195.13 L978.11,193.78 L981.64,192.43 L985.18,191.08 L988.72,189.74 L992.25,188.39 L993.94,187.75" fill="none" stroke="#191970" stroke-width="1.33" stroke-linejoin="round"/>
<polygon points="1006.40,183.00 995.61,192.11 992.28,183.38" fill="#191970" stroke="#191970" stroke-width="1.33"/>
<path d="M748.70,259.60 L750.36,258.43 L752.02,257.26 L753.68,256.10 L755.35,254.94 L757.02,253.79 L758.70,252.64 L760.37,251.50 L762.05,250.36 L763.73,249.22 L765.42,248.09 L767.11,246.96 L768.80,245.84 L770.49,244.72 L772.18,243.60 L773.88,242.49 L775.58,241.38 L777.28,240.28 L778.99,239.17 L780.70,238.08 L782.40,236.98 L784.12,235.89 L785.83,234.80 L787.55,233.72 L789.26,232.64 L790.98,231.56 L792.70,230.48 L794.43,229.41 L796.15,228.34 L797.88,227.27 L799.61,226.21 L801.34,225.15 L803.07,224.09 L804.81,223.03 L806.54,221.98 L808.28,220.92 L810.02,219.88 L811.76,218.83 L813.50,217.78 L815.24,216.74 L816.99,215.70 L818.73,214.66 L820.48,213.62 L822.23,212.58 L823.98,211.55 L825.73,210.52 L827.48,209.49 L829.23,208.46 L830.98,207.43 L832.73,206.40 L834.49,205.38 L836.24,204.35 L838.00,203.33 L839.76,202.31 L841.51,201.29 L843.27,200.27 L845.03,199.25 L846.79,198.23 L848.55,197.21 L850.31,196.20 L852.07,195.18 L853.83,194.16 L855.59,193.15 L857.35,192.13 L859.11,191.12 L860.87,190.10 L861.65,189.65" fill="none" stroke="#191970" stroke-width="1.33" stroke-linejoin="round"/>
<polygon points="873.20,183.00 863.98,193.70 859.32,185.61" fill="#191970" stroke="#191970" stroke-width="1.33"/>
<path d="M773.60,259.60 L778.02,258.25 L782.44,256.91 L786.86,255.56 L791.28,254.21 L795.71,252.86 L800.13,251.52 L804.55,250.17 L808.97,248.82 L813.39,247.47 L817.81,246.13 L822.23,244.78 L826.65,243.43 L831.07,242.08 L835.49,240.74 L839.92,239.39 L844.34,238.04 L844.85,237.89" fill="none" stroke="#191970" stroke-width="1.33" stroke-linejoin="round"/>
<polygon points="857.60,234.00 846.21,242.35 843.49,233.42" fill="#191970" stroke="#191970" stroke-width="1.33"/>
<path d="M801.00,272.00 L803.54,272.00 L806.08,272.00 L808.63,272.00 L811.17,272.00 L813.71,272.00 L816.25,272.00 L818.79,272.00 L821.34,272.00 L823.88,272.00 L826.42,272.00 L828.96,272.00 L831.51,272.00 L834.05,272.00 L835.97,272.00" fill="none" stroke="#191970" stroke-width="1.33" stroke-linejoin="round"/>
<polygon points="849.30,272.00 835.97,276.67 835.97,267.33" fill="#191970" stroke="#191970" stroke-width="1.33"/>
<path d="M931.70,259.60 L933.60,258.79 L935.49,257.95 L937.36,257.10 L939.23,256.22 L941.08,255.32 L942.92,254.40 L944.74,253.46 L946.56,252.50 L948.37,251.52 L950.16,250.52 L951.94,249.50 L953.71,248.46 L955.47,247.41 L957.22,246.33 L958.96,245.24 L960.69,244.13 L962.41,243.01 L964.12,241.87 L965.82,240.71 L967.50,239.54 L969.18,238.35 L970.85,237.15 L972.51,235.94 L974.16,234.71 L975.80,233.46 L977.44,232.21 L979.06,230.94 L980.67,229.66 L982.28,228.36 L983.88,227.06 L985.47,225.74 L987.05,224.42 L988.62,223.08 L990.19,221.73 L991.74,220.37 L993.29,219.01 L994.84,217.63 L996.37,216.25 L997.90,214.86 L999.42,213.46 L1000.94,212.05 L1002.44,210.64 L1003.94,209.22 L1005.44,207.80 L1006.93,206.36 L1008.41,204.93 L1009.89,203.49 L1011.36,202.04 L1012.82,200.59 L1014.28,199.13 L1015.73,197.68 L1017.18,196.22 L1018.62,194.75 L1020.06,193.29 L1020.74,192.59" fill="none" stroke="#191970" stroke-width="1.33" stroke-linejoin="round"/>
<polygon points="1030.00,183.00 1024.10,195.83 1017.38,189.34" fill="#191970" stroke="#191970" stroke-width="1.33"/>
<path d="M953.40,271.80 L955.98,271.80 L958.56,271.80 L961.14,271.80 L963.72,271.80 L966.29,271.80 L968.87,271.80 L971.45,271.80 L974.03,271.80 L976.61,271.80 L979.19,271.80 L981.77,271.80 L984.35,271.80 L986.93,271.80 L989.07,271.80" fill="none" stroke="#191970" stroke-width="1.33" stroke-linejoin="round"/>
<polygon points="1002.40,271.80 989.07,276.47 989.07,267.13" fill="#191970" stroke="#191970" stroke-width="1.33"/>
<path d="M290.30,360.50 L291.77,359.14 L293.24,357.78 L294.72,356.44 L296.20,355.10 L297.69,353.77 L299.19,352.44 L300.69,351.12 L302.20,349.81 L303.71,348.51 L305.23,347.22 L306.75,345.93 L308.28,344.65 L309.82,343.38 L311.36,342.11 L312.91,340.85 L314.46,339.60 L316.02,338.35 L317.58,337.12 L319.15,335.89 L320.72,334.66 L322.30,333.45 L323.89,332.24 L325.48,331.04 L327.07,329.84 L328.67,328.66 L330.28,327.47 L331.89,326.30 L333.50,325.13 L335.12,323.97 L336.75,322.82 L338.38,321.67 L340.02,320.53 L341.66,319.40 L343.30,318.27 L344.95,317.16 L346.61,316.04 L348.27,314.94 L349.93,313.84 L351.60,312.75 L353.27,311.66 L354.95,310.58 L356.63,309.51 L358.32,308.44 L360.01,307.38 L361.71,306.33 L363.41,305.28 L365.12,304.24 L366.83,303.21 L368.54,302.18 L370.26,301.16 L371.98,300.15 L373.71,299.14 L375.44,298.14 L377.17,297.14 L378.91,296.15 L380.66,295.17 L382.40,294.19 L384.16,293.22 L385.91,292.26 L387.67,291.30 L389.43,290.35 L391.20,289.40 L392.97,288.46 L394.75,287.53 L396.53,286.60 L398.31,285.68 L400.09,284.77 L401.88,283.86 L403.68,282.95 L405.47,282.06 L407.28,281.16 L409.08,280.28 L410.89,279.40 L412.70,278.52 L414.51,277.66 L416.33,276.79 L418.15,275.94 L419.98,275.09 L421.80,274.24 L423.63,273.40 L425.47,272.57 L427.31,271.74 L429.15,270.92 L430.99,270.10 L432.84,269.29 L434.69,268.48 L436.54,267.68 L438.39,266.89 L440.25,266.10 L442.11,265.32 L443.98,264.54 L445.85,263.77 L447.72,263.00 L449.59,262.24 L451.46,261.48 L453.34,260.73 L455.22,259.98 L457.11,259.24 L458.99,258.51 L460.88,257.78 L462.77,257.05 L464.67,256.33 L466.56,255.62 L468.46,254.91 L470.36,254.20 L472.26,253.50 L474.17,252.81 L476.08,252.12 L477.99,251.44 L479.90,250.76 L481.81,250.08 L483.73,249.42 L485.65,248.75 L487.57,248.09 L489.49,247.44 L491.41,246.79 L493.34,246.14 L495.27,245.50 L497.20,244.87 L499.13,244.24 L501.06,243.61 L503.00,242.99 L504.94,242.38 L506.88,241.77 L508.82,241.16 L510.76,240.56 L512.70,239.96 L514.65,239.37 L516.59,238.78 L518.54,238.20 L520.49,237.62 L522.44,237.04 L524.40,236.47 L526.35,235.91 L528.31,235.34 L530.26,234.79 L532.22,234.23 L534.18,233.69 L536.14,233.14 L538.10,232.60 L540.06,232.07 L542.03,231.54 L543.99,231.01 L545.96,230.49 L547.92,229.97 L549.89,229.46 L551.86,228.95 L553.83,228.44 L555.80,227.94 L557.77,227.44 L559.74,226.95 L561.71,226.46 L563.68,225.97 L565.66,225.49 L567.63,225.01 L569.61,224.54 L571.58,224.07 L573.56,223.60 L575.53,223.14 L577.51,222.68 L579.49,222.23 L581.46,221.78 L583.44,221.33 L585.42,220.89 L587.40,220.45 L589.38,220.02 L591.36,219.58 L593.33,219.16 L595.31,218.73 L597.29,218.31 L599.27,217.89 L601.25,217.48 L603.23,217.07 L605.21,216.66 L607.19,216.26 L609.17,215.86 L611.14,215.46 L613.12,215.07 L615.10,214.68 L617.08,214.30 L619.06,213.91 L621.03,213.53 L623.01,213.16 L624.99,212.79 L626.96,212.42 L628.94,212.05 L630.91,211.69 L632.89,211.33 L634.86,210.97 L636.83,210.62 L638.81,210.27 L640.78,209.92 L642.75,209.58 L644.72,209.24 L646.69,208.90 L648.66,208.56 L650.63,208.23 L652.59,207.90 L654.56,207.58 L656.52,207.25 L658.49,206.93 L660.45,206.61 L662.41,206.30 L664.37,205.99 L666.33,205.68 L668.29,205.37 L670.25,205.07 L672.20,204.77 L674.16,204.47 L676.11,204.18 L678.06,203.88 L680.01,203.59 L681.96,203.31 L683.91,203.02 L684.30,202.97" fill="none" stroke="#191970" stroke-width="1.33" stroke-linejoin="round"/>
<polygon points="697.50,201.10 684.96,207.59 683.65,198.34" fill="#191970" stroke="#191970" stroke-width="1.33"/>
<path d="M301.50,360.50 L303.28,359.52 L305.06,358.55 L306.84,357.59 L308.63,356.63 L310.42,355.69 L312.22,354.75 L314.01,353.82 L315.81,352.91 L317.62,352.00 L319.42,351.10 L321.23,350.20 L323.05,349.32 L324.86,348.44 L326.68,347.58 L328.50,346.72 L330.33,345.87 L332.16,345.02 L333.99,344.19 L335.82,343.36 L337.66,342.55 L339.50,341.74 L341.34,340.93 L343.19,340.14 L345.03,339.35 L346.88,338.58 L348.74,337.80 L350.59,337.04 L352.45,336.29 L354.31,335.54 L356.18,334.80 L358.04,334.06 L359.91,333.34 L361.79,332.62 L363.66,331.91 L365.54,331.21 L367.42,330.51 L369.30,329.82 L371.18,329.14 L373.07,328.46 L374.96,327.79 L376.85,327.13 L378.74,326.48 L380.64,325.83 L382.54,325.19 L384.44,324.55 L386.34,323.93 L388.25,323.30 L390.16,322.69 L392.06,322.08 L393.98,321.48 L395.89,320.88 L397.81,320.29 L399.72,319.71 L401.64,319.14 L403.57,318.56 L405.49,318.00 L407.42,317.44 L409.35,316.89 L411.28,316.34 L413.21,315.80 L415.14,315.27 L417.08,314.74 L419.01,314.21 L420.95,313.70 L422.89,313.18 L424.84,312.68 L426.78,312.18 L428.73,311.68 L430.68,311.19 L432.63,310.70 L434.58,310.22 L436.53,309.75 L438.49,309.28 L440.44,308.82 L442.40,308.36 L444.36,307.90 L446.32,307.45 L448.28,307.01 L450.24,306.57 L452.21,306.13 L454.18,305.70 L456.14,305.28 L458.11,304.86 L460.08,304.44 L462.06,304.03 L464.03,303.62 L466.00,303.22 L467.98,302.82 L469.95,302.42 L471.93,302.03 L473.91,301.65 L475.89,301.26 L477.87,300.89 L479.86,300.51 L481.84,300.14 L483.82,299.78 L485.81,299.41 L487.80,299.05 L489.78,298.70 L491.77,298.35 L493.76,298.00 L495.75,297.66 L497.74,297.32 L499.73,296.98 L501.73,296.64 L503.72,296.31 L505.71,295.99 L507.71,295.66 L509.71,295.34 L511.70,295.03 L513.70,294.71 L515.70,294.40 L517.70,294.09 L519.69,293.78 L521.69,293.48 L523.69,293.18 L525.69,292.88 L527.70,292.59 L529.70,292.30 L531.70,292.01 L533.70,291.72 L535.70,291.44 L537.71,291.16 L539.71,290.88 L541.72,290.60 L543.72,290.32 L545.72,290.05 L547.73,289.78 L549.73,289.51 L551.74,289.24 L553.74,288.98 L555.75,288.72 L557.76,288.46 L559.76,288.20 L561.77,287.94 L563.77,287.68 L565.78,287.43 L567.79,287.18 L569.79,286.93 L571.80,286.68 L573.80,286.43 L575.81,286.18 L577.82,285.94 L579.82,285.69 L581.83,285.45 L583.83,285.21 L585.84,284.97 L587.84,284.73 L589.85,284.49 L591.85,284.25 L593.86,284.01 L595.86,283.78 L597.86,283.54 L599.87,283.31 L601.87,283.07 L603.87,282.84 L605.87,282.61 L607.87,282.37 L609.87,282.14 L611.87,281.91 L613.87,281.68 L615.87,281.45 L617.87,281.22 L619.87,280.99 L621.87,280.76 L623.86,280.53 L625.86,280.30 L627.85,280.06 L629.85,279.83 L631.84,279.60 L633.84,279.37 L635.83,279.14 L637.82,278.91 L639.81,278.68 L641.80,278.44 L642.46,278.37" fill="none" stroke="#191970" stroke-width="1.33" stroke-linejoin="round"/>
<polygon points="655.70,276.80 643.01,283.00 641.91,273.73" fill="#191970" stroke="#191970" stroke-width="1.33"/>
<path d="M334.30,360.50 L336.27,360.07 L338.25,359.65 L340.22,359.23 L342.20,358.81 L344.17,358.40 L346.15,357.99 L348.13,357.59 L350.10,357.19 L352.08,356.80 L354.06,356.40 L356.04,356.02 L358.02,355.64 L360.01,355.26 L361.99,354.88 L363.97,354.51 L365.96,354.14 L367.94,353.78 L369.93,353.42 L371.91,353.07 L373.90,352.72 L375.89,352.37 L377.88,352.02 L379.87,351.68 L381.86,351.35 L383.85,351.01 L385.84,350.69 L387.83,350.36 L389.82,350.04 L391.82,349.72 L393.81,349.40 L395.81,349.09 L397.80,348.78 L399.80,348.48 L401.79,348.18 L403.79,347.88 L405.79,347.58 L407.78,347.29 L409.78,347.00 L411.78,346.72 L413.78,346.43 L415.78,346.15 L417.78,345.88 L419.78,345.60 L421.78,345.33 L423.79,345.07 L425.79,344.80 L427.79,344.54 L429.80,344.28 L431.80,344.03 L433.81,343.77 L435.81,343.52 L437.82,343.28 L439.82,343.03 L441.83,342.79 L443.84,342.55 L445.84,342.31 L447.85,342.08 L449.86,341.85 L451.87,341.62 L453.88,341.39 L455.88,341.17 L457.89,340.95 L459.90,340.73 L461.91,340.51 L463.93,340.30 L465.94,340.08 L467.95,339.87 L469.96,339.67 L471.97,339.46 L473.98,339.26 L476.00,339.06 L478.01,338.86 L480.02,338.66 L482.04,338.46 L484.05,338.27 L486.06,338.08 L488.08,337.89 L490.09,337.70 L492.11,337.52 L494.12,337.34 L496.14,337.15 L498.15,336.97 L500.17,336.80 L502.18,336.62 L504.20,336.45 L506.22,336.27 L508.23,336.10 L510.25,335.93 L512.27,335.76 L514.28,335.60 L516.30,335.43 L518.32,335.27 L520.33,335.11 L522.35,334.95 L524.37,334.79 L526.39,334.63 L528.40,334.47 L530.42,334.32 L532.44,334.16 L534.46,334.01 L536.48,333.86 L538.49,333.71 L540.51,333.56 L542.53,333.41 L544.55,333.26 L546.57,333.11 L548.59,332.97 L550.60,332.82 L552.62,332.68 L554.64,332.54 L556.66,332.40 L558.68,332.25 L560.69,332.11 L562.71,331.98 L564.73,331.84 L566.75,331.70 L568.77,331.56 L570.79,331.42 L572.80,331.29 L574.82,331.15 L576.84,331.02 L578.86,330.88 L580.87,330.75 L582.89,330.61 L584.91,330.48 L586.93,330.35 L588.94,330.22 L590.96,330.08 L592.98,329.95 L594.99,329.82 L597.01,329.69 L599.03,329.56 L601.04,329.43 L603.06,329.30 L605.07,329.16 L607.09,329.03 L609.10,328.90 L611.12,328.77 L613.13,328.64 L615.15,328.51 L617.16,328.38 L619.18,328.25 L621.19,328.12 L623.20,327.98 L625.22,327.85 L627.23,327.72 L629.24,327.59 L631.26,327.45 L633.27,327.32 L635.28,327.19 L637.29,327.05 L639.30,326.92 L641.31,326.78 L643.32,326.65 L645.33,326.51 L647.34,326.38 L648.10,326.32" fill="none" stroke="#191970" stroke-width="1.33" stroke-linejoin="round"/>
<polygon points="661.40,325.40 648.43,330.98 647.78,321.66" fill="#191970" stroke="#191970" stroke-width="1.33"/>
<path d="M348.60,373.40 L351.58,373.40 L354.57,373.40 L357.55,373.40 L360.54,373.40 L363.52,373.40 L366.51,373.40 L369.49,373.40 L372.47,373.40 L375.46,373.40 L378.44,373.40 L381.43,373.40 L384.41,373.40 L387.39,373.40 L390.38,373.40 L391.97,373.40" fill="none" stroke="#191970" stroke-width="1.33" stroke-linejoin="round"/>
<polygon points="405.30,373.40 391.97,378.07 391.97,368.73" fill="#191970" stroke="#191970" stroke-width="1.33"/>
<path d="M327.80,386.00 L329.78,386.46 L331.76,386.92 L333.75,387.37 L335.73,387.82 L337.71,388.25 L339.70,388.68 L341.68,389.10 L343.67,389.52 L345.66,389.93 L347.65,390.33 L349.63,390.72 L351.62,391.11 L353.61,391.49 L355.60,391.86 L357.60,392.23 L359.59,392.59 L361.58,392.95 L363.57,393.29 L365.57,393.63 L367.56,393.97 L369.56,394.29 L371.55,394.62 L373.55,394.93 L375.55,395.24 L377.55,395.54 L379.55,395.84 L381.54,396.12 L383.54,396.41 L385.55,396.68 L387.55,396.96 L389.55,397.22 L391.55,397.48 L393.55,397.73 L395.56,397.98 L397.56,398.22 L399.56,398.45 L401.57,398.68 L403.57,398.90 L405.58,399.12 L407.59,399.33 L409.59,399.54 L411.60,399.74 L413.61,399.93 L415.62,400.12 L417.62,400.30 L419.63,400.48 L421.64,400.65 L423.65,400.82 L425.66,400.98 L427.67,401.14 L429.69,401.29 L431.70,401.43 L433.71,401.57 L435.72,401.71 L437.74,401.84 L439.75,401.96 L441.76,402.08 L443.78,402.20 L445.79,402.30 L447.81,402.41 L449.82,402.51 L451.84,402.60 L453.85,402.69 L455.87,402.78 L457.88,402.86 L459.90,402.93 L461.92,403.00 L463.93,403.07 L465.95,403.13 L467.97,403.19 L469.99,403.24 L472.01,403.28 L474.02,403.33 L476.04,403.37 L478.06,403.40 L480.08,403.43 L482.10,403.45 L484.12,403.48 L486.14,403.49 L488.16,403.51 L490.18,403.51 L492.20,403.52 L494.22,403.52 L496.24,403.51 L498.26,403.51 L500.28,403.49 L502.30,403.48 L504.33,403.46 L506.35,403.44 L508.37,403.41 L510.39,403.38 L512.41,403.34 L514.43,403.30 L516.46,403.26 L518.48,403.21 L520.50,403.17 L522.52,403.11 L524.54,403.06 L526.57,403.00 L528.59,402.93 L530.61,402.87 L532.63,402.79 L534.66,402.72 L536.68,402.64 L538.70,402.56 L540.72,402.48 L542.74,402.39 L544.77,402.30 L546.79,402.21 L548.81,402.12 L550.83,402.02 L552.86,401.92 L554.88,401.81 L556.90,401.70 L558.92,401.59 L560.94,401.48 L562.96,401.36 L564.99,401.25 L567.01,401.12 L569.03,401.00 L571.05,400.87 L573.07,400.74 L575.09,400.61 L577.11,400.48 L579.13,400.34 L581.15,400.20 L583.17,400.06 L585.19,399.92 L587.21,399.77 L589.23,399.62 L591.25,399.47 L593.27,399.32 L595.29,399.16 L597.31,399.00 L599.33,398.85 L601.35,398.68 L603.37,398.52 L605.38,398.36 L607.40,398.19 L609.42,398.02 L611.44,397.85 L613.45,397.68 L615.47,397.50 L617.49,397.32 L619.50,397.15 L621.52,396.97 L623.53,396.79 L625.55,396.60 L627.56,396.42 L629.58,396.23 L631.59,396.04 L633.60,395.86 L635.62,395.67 L637.63,395.47 L639.64,395.28 L641.66,395.09 L643.67,394.89 L645.68,394.70 L647.69,394.50 L649.70,394.30 L651.71,394.10 L653.72,393.90 L655.73,393.70 L657.74,393.49 L659.74,393.29 L661.75,393.09 L663.76,392.88 L665.77,392.68 L667.77,392.47 L669.78,392.26 L671.78,392.05 L673.79,391.84 L675.79,391.63 L677.80,391.42 L679.80,391.21 L681.80,391.00 L683.80,390.79 L684.54,390.71" fill="none" stroke="#191970" stroke-width="1.33" stroke-linejoin="round"/>
<polygon points="697.80,389.30 685.04,395.36 684.05,386.07" fill="#191970" stroke="#191970" stroke-width="1.33"/>
<path d="M318.80,386.00 L320.71,386.75 L322.61,387.48 L324.52,388.21 L326.44,388.92 L328.35,389.62 L330.27,390.31 L332.18,390.99 L334.10,391.66 L336.03,392.32 L337.95,392.97 L339.88,393.61 L341.81,394.24 L343.74,394.86 L345.67,395.47 L347.60,396.07 L349.54,396.67 L351.48,397.25 L353.42,397.82 L355.36,398.38 L357.30,398.94 L359.25,399.49 L361.19,400.03 L363.14,400.56 L365.09,401.08 L367.04,401.59 L368.99,402.10 L370.95,402.59 L372.90,403.09 L374.86,403.57 L376.82,404.04 L378.78,404.51 L380.74,404.98 L382.70,405.43 L384.67,405.88 L386.63,406.32 L388.60,406.76 L390.57,407.18 L392.54,407.61 L394.51,408.02 L396.48,408.44 L398.45,408.84 L400.43,409.24 L402.40,409.64 L404.38,410.02 L406.35,410.41 L408.33,410.79 L410.31,411.16 L412.29,411.53 L414.27,411.90 L416.25,412.26 L418.24,412.62 L420.22,412.97 L422.21,413.32 L424.19,413.66 L426.18,414.01 L428.16,414.34 L430.15,414.68 L432.14,415.01 L434.13,415.34 L436.12,415.67 L438.11,415.99 L440.10,416.31 L442.09,416.63 L444.08,416.94 L446.07,417.26 L448.07,417.57 L450.06,417.88 L452.05,418.19 L454.05,418.50 L456.04,418.80 L458.04,419.11 L460.03,419.41 L462.03,419.71 L464.02,420.01 L466.02,420.31 L468.01,420.61 L470.01,420.91 L472.01,421.21 L474.00,421.51 L476.00,421.81 L477.99,422.11 L479.99,422.41 L481.99,422.71 L483.98,423.02 L485.98,423.32 L487.98,423.62 L489.97,423.93 L491.97,424.23 L493.97,424.54 L495.96,424.85 L497.96,425.16 L499.95,425.47 L501.95,425.79 L503.94,426.10 L505.94,426.42 L507.93,426.74 L509.92,427.07 L511.92,427.39 L513.91,427.72 L515.90,428.05 L517.90,428.38 L519.89,428.72 L521.88,429.05 L523.87,429.39 L525.86,429.73 L527.86,430.07 L529.85,430.41 L531.84,430.75 L533.83,431.10 L535.82,431.45 L537.81,431.79 L539.80,432.14 L541.79,432.49 L543.78,432.84 L545.77,433.19 L547.76,433.55 L549.75,433.90 L551.73,434.25 L553.72,434.61 L555.71,434.97 L557.70,435.32 L559.69,435.68 L561.68,436.03 L563.67,436.39 L565.66,436.75 L567.64,437.11 L569.63,437.46 L571.62,437.82 L573.61,438.18 L575.60,438.54 L577.59,438.89 L579.57,439.25 L581.56,439.61 L583.55,439.96 L585.54,440.32 L587.53,440.67 L589.52,441.03 L591.50,441.38 L593.49,441.73 L595.48,442.08 L597.47,442.43 L599.46,442.78 L601.45,443.13 L603.44,443.48 L605.43,443.83 L607.41,444.17 L609.40,444.51 L611.39,444.86 L613.38,445.20 L615.37,445.54 L617.36,445.87 L619.35,446.21 L621.34,446.54 L623.33,446.87 L625.32,447.20 L627.32,447.53 L629.31,447.86 L631.30,448.18 L633.29,448.50 L635.28,448.82 L637.27,449.13 L639.27,449.45 L641.26,449.76 L643.25,450.07 L645.25,450.37 L647.24,450.68 L649.23,450.98 L651.23,451.27 L653.22,451.57 L655.22,451.86 L657.21,452.15 L659.21,452.43 L661.20,452.71 L663.20,452.99 L665.20,453.26 L667.19,453.53 L669.19,453.80 L671.19,454.06 L673.19,454.32 L675.19,454.58 L677.19,454.83 L679.19,455.08 L679.96,455.17" fill="none" stroke="#191970" stroke-width="1.33" stroke-linejoin="round"/>
<polygon points="693.20,456.70 679.42,459.81 680.49,450.53" fill="#191970" stroke="#191970" stroke-width="1.33"/>
<path d="M294.00,386.00 L295.52,387.13 L297.04,388.25 L298.57,389.36 L300.11,390.47 L301.65,391.57 L303.21,392.67 L304.77,393.76 L306.34,394.85 L307.91,395.93 L309.50,397.00 L311.09,398.07 L312.68,399.13 L314.29,400.19 L315.90,401.24 L317.52,402.29 L319.15,403.33 L320.78,404.36 L322.42,405.39 L324.07,406.42 L325.72,407.44 L327.38,408.45 L329.04,409.46 L330.72,410.46 L332.40,411.45 L334.08,412.44 L335.77,413.43 L337.47,414.41 L339.18,415.38 L340.89,416.35 L342.60,417.32 L344.33,418.27 L346.06,419.23 L347.79,420.17 L349.53,421.12 L351.28,422.05 L353.03,422.98 L354.79,423.91 L356.55,424.83 L358.32,425.75 L360.09,426.66 L361.87,427.56 L363.66,428.46 L365.45,429.36 L367.24,430.25 L369.04,431.13 L370.85,432.01 L372.66,432.89 L374.48,433.76 L376.30,434.62 L378.12,435.48 L379.95,436.33 L381.79,437.18 L383.63,438.03 L385.47,438.87 L387.32,439.70 L389.17,440.53 L391.03,441.35 L392.89,442.17 L394.76,442.99 L396.63,443.80 L398.51,444.60 L400.39,445.40 L402.27,446.20 L404.16,446.99 L406.05,447.77 L407.94,448.55 L409.84,449.33 L411.74,450.10 L413.65,450.86 L415.56,451.62 L417.47,452.38 L419.39,453.13 L421.31,453.88 L423.23,454.62 L425.16,455.36 L427.09,456.09 L429.02,456.82 L430.96,457.55 L432.90,458.27 L434.84,458.98 L436.79,459.69 L438.74,460.40 L440.69,461.10 L442.64,461.79 L444.60,462.49 L446.56,463.17 L448.52,463.86 L450.49,464.54 L452.45,465.21 L454.42,465.88 L456.40,466.54 L458.37,467.21 L460.35,467.86 L462.33,468.52 L464.31,469.16 L466.29,469.81 L468.27,470.45 L470.26,471.08 L472.25,471.71 L474.24,472.34 L476.23,472.96 L478.22,473.58 L480.22,474.19 L482.22,474.80 L484.21,475.41 L486.21,476.01 L488.22,476.61 L490.22,477.20 L492.22,477.79 L494.23,478.37 L496.23,478.95 L498.24,479.53 L500.25,480.10 L502.26,480.67 L504.27,481.24 L506.28,481.80 L508.29,482.36 L510.30,482.91 L512.31,483.46 L514.32,484.00 L516.34,484.54 L518.35,485.08 L520.37,485.61 L522.38,486.14 L524.40,486.67 L526.41,487.19 L528.43,487.71 L530.44,488.22 L532.46,488.73 L534.47,489.24 L536.49,489.74 L538.50,490.24 L540.52,490.73 L542.53,491.23 L544.55,491.71 L546.56,492.20 L548.57,492.68 L550.59,493.16 L552.60,493.63 L554.61,494.10 L556.62,494.56 L558.63,495.03 L560.64,495.49 L562.65,495.94 L564.66,496.39 L566.66,496.84 L568.67,497.29 L570.67,497.73 L572.67,498.17 L574.68,498.60 L576.68,499.03 L578.67,499.46 L580.67,499.88 L582.67,500.30 L584.66,500.72 L586.65,501.13 L588.64,501.55 L590.63,501.95 L592.62,502.36 L594.61,502.76 L596.59,503.16 L598.57,503.55 L600.55,503.94 L602.53,504.33 L604.50,504.71 L606.47,505.09 L608.45,505.47 L610.41,505.85 L612.38,506.22 L614.34,506.59 L616.30,506.95 L618.26,507.32 L620.21,507.68 L622.17,508.03 L624.12,508.39 L626.06,508.74 L628.01,509.08 L629.95,509.43 L631.88,509.77 L633.82,510.11 L635.75,510.44 L637.68,510.78 L639.60,511.11 L641.52,511.43 L643.44,511.76 L645.36,512.08 L647.27,512.40 L649.18,512.71 L651.08,513.03 L652.98,513.34 L654.88,513.64 L656.73,513.93" fill="none" stroke="#191970" stroke-width="1.33" stroke-linejoin="round"/>
<polygon points="669.90,516.00 656.01,518.55 657.46,509.32" fill="#191970" stroke="#191970" stroke-width="1.33"/>
<path d="M283.60,386.00 L284.94,387.77 L286.27,389.52 L287.60,391.27 L288.93,393.01 L290.26,394.75 L291.59,396.47 L292.92,398.18 L294.24,399.89 L295.56,401.59 L296.89,403.28 L298.21,404.96 L299.53,406.63 L300.85,408.30 L302.17,409.95 L303.49,411.60 L304.80,413.24 L306.12,414.87 L307.44,416.49 L308.76,418.10 L310.08,419.70 L311.39,421.30 L312.71,422.89 L314.03,424.46 L315.35,426.03 L316.67,427.60 L317.99,429.15 L319.32,430.69 L320.64,432.23 L321.96,433.76 L323.29,435.27 L324.62,436.78 L325.95,438.28 L327.28,439.78 L328.61,441.26 L329.94,442.74 L331.28,444.20 L332.62,445.66 L333.96,447.11 L335.30,448.55 L336.65,449.99 L337.99,451.41 L339.35,452.83 L340.70,454.23 L342.06,455.63 L343.42,457.02 L344.78,458.40 L346.14,459.78 L347.51,461.14 L348.89,462.50 L350.27,463.84 L351.65,465.18 L353.03,466.51 L354.42,467.83 L355.81,469.14 L357.21,470.45 L358.61,471.74 L360.02,473.03 L361.43,474.31 L362.85,475.58 L364.27,476.84 L365.69,478.09 L367.12,479.33 L368.56,480.57 L370.00,481.79 L371.45,483.01 L372.90,484.22 L374.36,485.42 L375.82,486.61 L377.29,487.80 L378.77,488.97 L380.25,490.14 L381.74,491.29 L383.24,492.44 L384.74,493.58 L386.25,494.71 L387.76,495.84 L389.29,496.95 L390.82,498.06 L392.35,499.15 L393.90,500.24 L395.45,501.32 L397.01,502.39 L398.57,503.45 L400.15,504.51 L401.73,505.55 L403.32,506.59 L404.92,507.62 L406.52,508.63 L408.14,509.64 L409.76,510.65 L411.39,511.64 L413.04,512.62 L414.68,513.60 L416.34,514.57 L418.01,515.52 L419.69,516.47 L421.37,517.41 L423.07,518.35 L424.78,519.27 L426.49,520.19 L428.22,521.09 L429.95,521.99 L431.69,522.88 L433.45,523.76 L435.21,524.63 L436.99,525.49 L438.78,526.35 L440.57,527.19 L442.38,528.03 L444.20,528.86 L446.03,529.68 L447.87,530.49 L449.72,531.29 L451.58,532.08 L453.45,532.87 L455.33,533.64 L457.22,534.41 L459.12,535.17 L461.03,535.92 L462.94,536.66 L464.87,537.40 L466.80,538.12 L468.75,538.84 L470.70,539.55 L472.66,540.25 L474.62,540.94 L476.60,541.63 L478.58,542.30 L480.57,542.97 L482.56,543.63 L484.56,544.28 L486.57,544.92 L488.58,545.56 L490.60,546.19 L492.63,546.80 L494.66,547.42 L496.70,548.02 L498.74,548.61 L500.78,549.20 L502.83,549.78 L504.89,550.35 L506.95,550.92 L509.01,551.47 L511.08,552.02 L513.15,552.56 L515.23,553.09 L517.30,553.62 L519.38,554.14 L521.47,554.65 L523.55,555.15 L525.64,555.64 L527.73,556.13 L529.82,556.61 L531.92,557.08 L534.01,557.55 L536.11,558.00 L538.21,558.45 L540.30,558.89 L542.40,559.33 L544.50,559.76 L546.60,560.18 L548.70,560.59 L550.80,561.00 L552.90,561.39 L555.00,561.79 L557.10,562.17 L559.19,562.55 L561.29,562.92 L563.38,563.28 L565.47,563.64 L567.56,563.98 L569.65,564.33 L571.73,564.66 L573.82,564.99 L575.90,565.31 L577.97,565.62 L580.05,565.93 L582.12,566.23 L584.18,566.53 L586.25,566.81 L588.30,567.09 L590.36,567.37 L592.41,567.63 L594.45,567.89 L596.49,568.14 L598.53,568.39 L600.56,568.63 L602.58,568.86 L604.60,569.09 L606.61,569.31 L608.62,569.53 L610.62,569.73 L612.61,569.93 L614.60,570.13 L616.58,570.32 L618.55,570.50 L620.51,570.68 L622.47,570.85 L624.42,571.01 L626.36,571.17 L628.29,571.32 L630.21,571.46 L632.13,571.60 L634.03,571.73 L635.93,571.86 L637.82,571.98 L639.70,572.09 L641.56,572.20 L643.42,572.30 L645.27,572.40 L647.11,572.49 L648.08,572.52" fill="none" stroke="#191970" stroke-width="1.33" stroke-linejoin="round"/>
<polygon points="661.40,573.00 647.91,577.19 648.25,567.86" fill="#191970" stroke="#191970" stroke-width="1.33"/>
<path d="M522.80,360.80 L524.21,359.34 L525.62,357.88 L527.04,356.42 L528.46,354.98 L529.89,353.53 L531.32,352.10 L532.75,350.66 L534.19,349.24 L535.64,347.82 L537.08,346.40 L538.54,344.99 L539.99,343.58 L541.45,342.18 L542.91,340.78 L544.38,339.39 L545.85,338.00 L547.33,336.61 L548.80,335.24 L550.29,333.86 L551.77,332.49 L553.26,331.12 L554.75,329.76 L556.25,328.40 L557.75,327.05 L559.25,325.70 L560.76,324.35 L562.27,323.01 L563.78,321.68 L565.29,320.34 L566.81,319.01 L568.33,317.69 L569.86,316.36 L571.39,315.04 L572.92,313.73 L574.45,312.42 L575.99,311.11 L577.53,309.80 L579.07,308.50 L580.61,307.20 L582.16,305.90 L583.71,304.61 L585.26,303.32 L586.81,302.04 L588.37,300.75 L589.93,299.47 L591.49,298.19 L593.06,296.92 L594.62,295.64 L596.19,294.37 L597.76,293.11 L599.33,291.84 L600.91,290.58 L602.49,289.32 L604.06,288.06 L605.65,286.81 L607.23,285.55 L608.81,284.30 L610.40,283.05 L611.98,281.81 L613.57,280.56 L615.16,279.32 L616.76,278.08 L618.35,276.84 L619.95,275.60 L621.54,274.36 L623.14,273.13 L624.74,271.90 L626.34,270.66 L627.94,269.43 L629.55,268.20 L631.15,266.98 L632.75,265.75 L634.36,264.53 L635.97,263.30 L637.58,262.08 L639.19,260.86 L640.79,259.64 L642.41,258.42 L644.02,257.20 L645.63,255.98 L647.24,254.76 L648.85,253.54 L650.47,252.33 L652.08,251.11 L653.70,249.89 L655.31,248.68 L656.93,247.46 L658.54,246.25 L660.16,245.04 L661.77,243.82 L663.39,242.61 L665.01,241.39 L666.62,240.18 L668.24,238.96 L669.85,237.75 L671.47,236.53 L673.09,235.32 L674.70,234.10 L676.32,232.89 L677.93,231.67 L679.55,230.46 L681.16,229.24 L682.78,228.02 L684.39,226.80 L686.00,225.58 L687.62,224.36 L689.23,223.14 L690.84,221.92 L692.45,220.70 L694.06,219.47 L695.67,218.25 L697.27,217.02 L697.93,216.52" fill="none" stroke="#191970" stroke-width="1.33" stroke-linejoin="round"/>
<polygon points="708.50,208.40 700.77,220.22 695.08,212.82" fill="#191970" stroke="#191970" stroke-width="1.33"/>
<path d="M531.90,360.80 L533.63,359.72 L535.37,358.64 L537.10,357.57 L538.85,356.50 L540.59,355.44 L542.33,354.38 L544.08,353.33 L545.83,352.28 L547.59,351.24 L549.34,350.19 L551.10,349.16 L552.86,348.13 L554.63,347.10 L556.39,346.08 L558.16,345.06 L559.93,344.04 L561.71,343.03 L563.48,342.03 L565.26,341.03 L567.04,340.03 L568.83,339.04 L570.61,338.05 L572.40,337.06 L574.19,336.09 L575.99,335.11 L577.78,334.14 L579.58,333.17 L581.38,332.21 L583.18,331.26 L584.99,330.30 L586.80,329.35 L588.61,328.41 L590.42,327.47 L592.23,326.53 L594.05,325.60 L595.87,324.68 L597.69,323.75 L599.51,322.84 L601.34,321.92 L603.17,321.01 L605.00,320.11 L606.83,319.21 L608.66,318.31 L610.50,317.42 L612.34,316.53 L614.18,315.65 L616.02,314.77 L617.87,313.90 L619.72,313.03 L621.56,312.16 L623.42,311.30 L625.27,310.44 L627.12,309.59 L628.98,308.74 L630.84,307.90 L632.70,307.06 L634.57,306.22 L636.43,305.39 L638.30,304.57 L640.17,303.74 L642.04,302.93 L643.91,302.11 L645.79,301.30 L647.67,300.50 L649.54,299.70 L651.43,298.90 L653.31,298.11 L655.19,297.32 L657.08,296.54 L658.97,295.76 L660.86,294.99 L662.75,294.22 L664.64,293.45 L666.54,292.69 L668.44,291.93 L670.33,291.18 L672.23,290.43 L674.14,289.69 L675.04,289.34" fill="none" stroke="#191970" stroke-width="1.33" stroke-linejoin="round"/>
<polygon points="687.50,284.60 676.70,293.71 673.38,284.98" fill="#191970" stroke="#191970" stroke-width="1.33"/>
<path d="M563.80,360.80 L565.63,360.33 L567.47,359.86 L569.30,359.39 L571.14,358.92 L572.97,358.45 L574.81,357.98 L576.64,357.52 L578.48,357.05 L580.32,356.59 L582.15,356.13 L583.99,355.67 L585.83,355.21 L587.66,354.75 L589.50,354.29 L591.34,353.84 L593.18,353.38 L595.02,352.93 L596.86,352.48 L598.70,352.03 L600.53,351.58 L602.37,351.13 L604.21,350.68 L606.05,350.24 L607.90,349.79 L609.74,349.35 L611.58,348.91 L613.42,348.47 L615.26,348.03 L617.10,347.59 L618.95,347.15 L620.79,346.71 L622.63,346.28 L624.47,345.85 L626.32,345.41 L628.16,344.98 L630.01,344.55 L631.85,344.12 L633.69,343.70 L635.54,343.27 L637.38,342.84 L639.23,342.42 L641.08,342.00 L642.92,341.58 L644.77,341.16 L646.62,340.74 L648.46,340.32 L650.31,339.90 L652.16,339.49 L654.01,339.07 L655.85,338.66 L657.70,338.25 L659.48,337.86" fill="none" stroke="#191970" stroke-width="1.33" stroke-linejoin="round"/>
<polygon points="672.50,335.00 660.48,342.42 658.48,333.30" fill="#191970" stroke="#191970" stroke-width="1.33"/>
<path d="M607.80,378.50 L612.54,378.81 L617.27,379.11 L622.01,379.42 L626.75,379.72 L631.48,380.03 L636.22,380.33 L640.96,380.64 L645.69,380.94 L650.43,381.25 L655.17,381.55 L659.91,381.86 L664.64,382.16 L669.38,382.47 L674.12,382.77 L678.85,383.08 L683.59,383.38 L684.50,383.44" fill="none" stroke="#191970" stroke-width="1.33" stroke-linejoin="round"/>
<polygon points="697.80,384.30 684.20,388.10 684.80,378.78" fill="#191970" stroke="#191970" stroke-width="1.33"/>
<path d="M539.80,386.00 L541.64,386.89 L543.49,387.78 L545.34,388.66 L547.19,389.54 L549.05,390.40 L550.90,391.27 L552.76,392.12 L554.62,392.97 L556.48,393.82 L558.35,394.66 L560.22,395.50 L562.09,396.33 L563.96,397.15 L565.83,397.97 L567.71,398.78 L569.58,399.60 L571.46,400.40 L573.34,401.20 L575.22,402.00 L577.11,402.79 L578.99,403.58 L580.88,404.37 L582.77,405.15 L584.66,405.92 L586.55,406.70 L588.44,407.47 L590.33,408.24 L592.23,409.00 L594.12,409.76 L596.02,410.52 L597.92,411.27 L599.82,412.03 L601.72,412.78 L603.62,413.52 L605.52,414.27 L607.43,415.01 L609.33,415.75 L611.24,416.49 L613.14,417.23 L615.05,417.96 L616.95,418.70 L618.86,419.43 L620.77,420.16 L622.68,420.89 L624.59,421.62 L626.50,422.34 L628.41,423.07 L630.32,423.80 L632.23,424.52 L634.14,425.25 L636.05,425.97 L637.96,426.69 L639.87,427.42 L641.78,428.14 L643.69,428.86 L645.60,429.59 L647.51,430.31 L649.42,431.04 L651.33,431.76 L653.24,432.49 L655.15,433.22 L657.06,433.95 L658.97,434.67 L660.88,435.41 L662.79,436.14 L664.70,436.87 L666.60,437.60 L668.51,438.34 L670.41,439.08 L672.32,439.82 L674.22,440.56 L676.13,441.31 L678.03,442.05 L679.93,442.80 L681.83,443.55 L682.74,443.92" fill="none" stroke="#191970" stroke-width="1.33" stroke-linejoin="round"/>
<polygon points="695.10,448.90 680.99,448.25 684.48,439.59" fill="#191970" stroke="#191970" stroke-width="1.33"/>
<path d="M522.80,386.00 L524.32,387.34 L525.84,388.69 L527.36,390.03 L528.88,391.37 L530.40,392.71 L531.93,394.05 L533.45,395.39 L534.98,396.73 L536.50,398.07 L538.03,399.41 L539.56,400.75 L541.09,402.09 L542.62,403.42 L544.16,404.76 L545.69,406.09 L547.23,407.42 L548.77,408.75 L550.31,410.08 L551.85,411.41 L553.39,412.73 L554.94,414.06 L556.48,415.38 L558.03,416.70 L559.58,418.02 L561.14,419.33 L562.69,420.64 L564.25,421.96 L565.80,423.26 L567.36,424.57 L568.93,425.87 L570.49,427.18 L572.06,428.47 L573.63,429.77 L575.20,431.06 L576.77,432.35 L578.35,433.64 L579.93,434.92 L581.51,436.20 L583.09,437.48 L584.68,438.75 L586.27,440.02 L587.86,441.28 L589.46,442.55 L591.05,443.81 L592.65,445.06 L594.26,446.31 L595.86,447.56 L597.47,448.80 L599.08,450.04 L600.70,451.27 L602.31,452.50 L603.94,453.73 L605.56,454.95 L607.19,456.16 L608.82,457.37 L610.45,458.58 L612.09,459.78 L613.73,460.98 L615.37,462.17 L617.02,463.35 L618.67,464.53 L620.33,465.71 L621.99,466.88 L623.65,468.04 L625.31,469.20 L626.98,470.36 L628.66,471.50 L630.33,472.65 L632.02,473.78 L633.70,474.91 L635.39,476.03 L637.08,477.15 L638.78,478.26 L640.48,479.37 L642.19,480.46 L643.90,481.56 L645.61,482.64 L647.33,483.72 L649.05,484.79 L650.78,485.85 L652.51,486.91 L654.25,487.96 L655.99,489.01 L657.73,490.04 L659.48,491.07 L661.24,492.09 L662.99,493.10 L664.76,494.11 L666.53,495.11 L668.30,496.10 L670.08,497.08 L671.86,498.06 L673.65,499.02 L675.44,499.98 L677.24,500.93 L679.04,501.87 L680.85,502.81 L682.67,503.73 L684.49,504.65 L686.31,505.56 L688.14,506.46 L689.02,506.87" fill="none" stroke="#191970" stroke-width="1.33" stroke-linejoin="round"/>
<polygon points="701.10,512.50 687.05,511.10 690.99,502.63" fill="#191970" stroke="#191970" stroke-width="1.33"/>
<path d="M515.50,386.00 L516.60,387.65 L517.69,389.31 L518.79,390.97 L519.89,392.63 L520.98,394.29 L522.08,395.96 L523.18,397.63 L524.28,399.30 L525.38,400.98 L526.48,402.65 L527.58,404.33 L528.68,406.01 L529.79,407.69 L530.89,409.37 L532.00,411.06 L533.11,412.74 L534.22,414.43 L535.33,416.12 L536.44,417.80 L537.55,419.49 L538.67,421.18 L539.79,422.87 L540.91,424.55 L542.03,426.24 L543.16,427.93 L544.29,429.62 L545.42,431.30 L546.55,432.99 L547.69,434.67 L548.83,436.36 L549.97,438.04 L551.12,439.72 L552.27,441.40 L553.42,443.07 L554.58,444.75 L555.74,446.42 L556.90,448.09 L558.07,449.76 L559.24,451.42 L560.41,453.09 L561.59,454.75 L562.77,456.40 L563.96,458.06 L565.15,459.71 L566.35,461.35 L567.55,462.99 L568.76,464.63 L569.97,466.27 L571.19,467.90 L572.41,469.52 L573.63,471.15 L574.87,472.76 L576.10,474.37 L577.35,475.98 L578.59,477.58 L579.85,479.18 L581.11,480.77 L582.37,482.35 L583.64,483.93 L584.92,485.51 L586.21,487.07 L587.50,488.63 L588.79,490.19 L590.10,491.74 L591.41,493.28 L592.72,494.81 L594.05,496.34 L595.38,497.86 L596.72,499.37 L598.06,500.88 L599.41,502.37 L600.77,503.86 L602.14,505.34 L603.52,506.81 L604.90,508.28 L606.29,509.73 L607.69,511.18 L609.10,512.62 L610.51,514.05 L611.93,515.47 L613.36,516.88 L614.80,518.28 L616.25,519.67 L617.71,521.05 L619.18,522.43 L620.65,523.79 L622.13,525.14 L623.63,526.48 L625.13,527.81 L626.64,529.13 L628.16,530.44 L629.69,531.73 L631.23,533.02 L632.78,534.29 L634.34,535.56 L635.91,536.81 L637.49,538.05 L639.08,539.27 L640.68,540.49 L642.29,541.69 L643.91,542.88 L645.54,544.06 L647.19,545.22 L648.84,546.38 L650.50,547.51 L652.18,548.64 L653.87,549.75 L655.56,550.85 L657.27,551.93 L658.99,553.00 L660.72,554.06 L662.47,555.10 L664.22,556.13 L665.99,557.14 L666.89,557.61" fill="none" stroke="#191970" stroke-width="1.33" stroke-linejoin="round"/>
<polygon points="678.70,563.80 664.73,561.75 669.06,553.48" fill="#191970" stroke="#191970" stroke-width="1.33"/>
</svg></body></html>
